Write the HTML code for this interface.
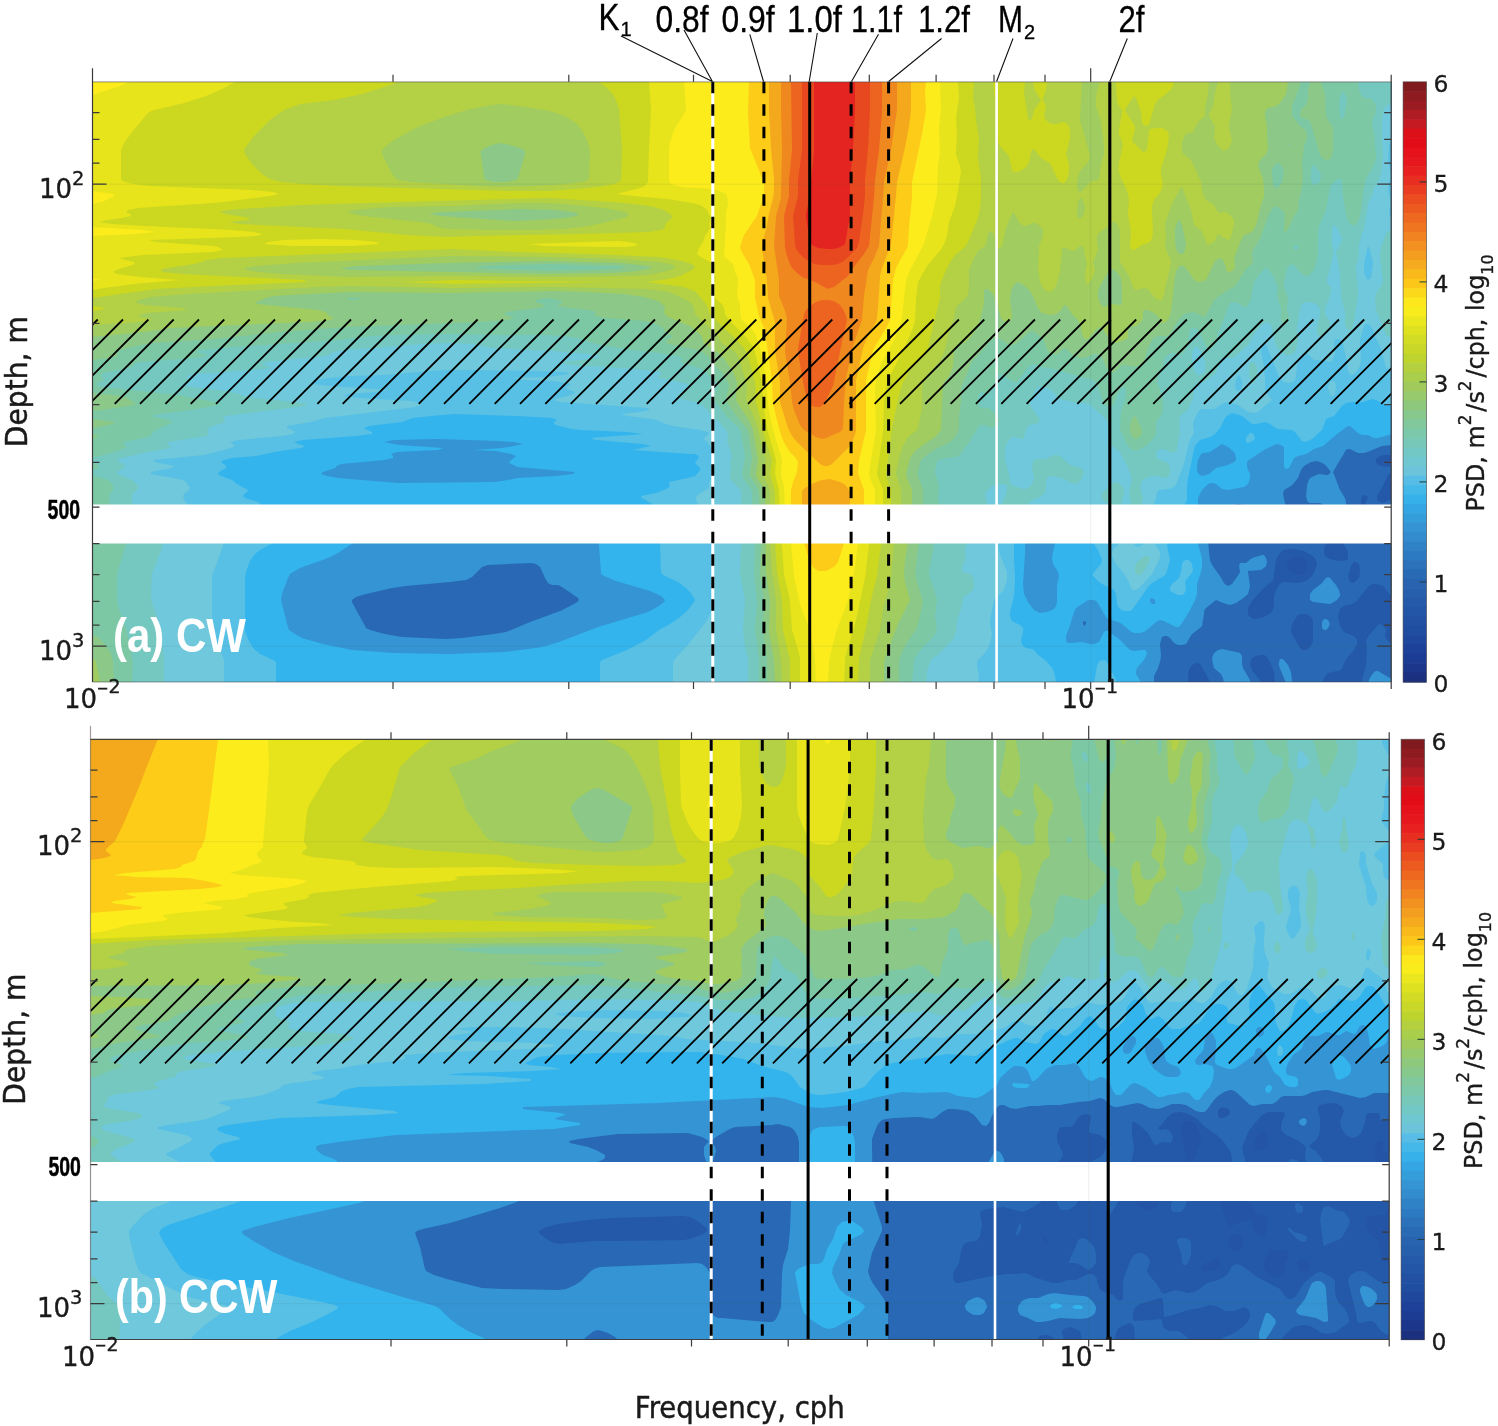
<!DOCTYPE html>
<html lang="en"><head><meta charset="utf-8"><title>Rotary spectra: CW and CCW</title>
<style>html,body{margin:0;padding:0;background:#fff}body{width:1498px;height:1426px;overflow:hidden}svg{display:block}.tk{font-family:"DejaVu Sans","Liberation Sans",sans-serif;font-size:26px;fill:#1a1a1a;stroke:#1a1a1a;stroke-width:.35px}.cb{font-family:"DejaVu Sans","Liberation Sans",sans-serif;font-size:23.5px;fill:#1a1a1a;stroke:#1a1a1a;stroke-width:.3px}.lb{font-family:"DejaVu Sans","Liberation Sans",sans-serif;font-size:30px;fill:#1a1a1a;stroke:#1a1a1a;stroke-width:.45px}.cl{font-family:"DejaVu Sans","Liberation Sans",sans-serif;font-size:24px;fill:#1a1a1a;stroke:#1a1a1a;stroke-width:.35px}.b5{font-family:"Liberation Sans",sans-serif;font-weight:bold;font-size:28.5px;fill:#000;stroke:#000;stroke-width:.5px}.pl{font-family:"Liberation Sans",sans-serif;font-weight:bold;font-size:49px;fill:#fff}.tl{font-family:"Liberation Sans",sans-serif;font-size:36px;fill:#000;stroke:#000;stroke-width:.3px}</style></head><body>
<svg width="1498" height="1426" viewBox="0 0 1498 1426">
<defs><clipPath id="clipa"><rect x="92.5" y="81.8" width="1298.7" height="600.2"/></clipPath><clipPath id="clipb"><rect x="90.5" y="738.8" width="1298.7" height="601.2"/></clipPath></defs>
<rect width="1498" height="1426" fill="#fff"/>
<g clip-path="url(#clipa)">
<rect x="92.5" y="82" width="1299" height="601" fill="#2354a6"/>
<path fill="#2458a8" d="M1392 683l-1300 0 0 -601 1300 0zM1303 574l3 -4 1 -4 -1 -3 -1 -3 -5 -3 -4 0 -4 0 -3 3 -1 2 -1 4 2 4 3 3 4 2 4 0z"/>
<path fill="#2868b4" d="M1320 683l-45 0 -1 -11 -4 -10 -4 -6 -2 -1 -4 0 -4 1 -4 2 -1 2 -1 4 2 6 8 10 2 3 -52 0 -1 -3 -7 -13 -2 -3 -2 -1 -2 0 -4 2 -3 5 -1 6 0 7 -1096 0 0 -601 740 0 560 0 0 373 -8 0 -4 1 -4 3 0 3 2 3 4 1 4 1 6 -1 0 6 -2 1 -2 2 -5 11 -6 10 0 2 0 2 3 2 2 1 10 -4 0 97 -3 -2 -4 -6 -2 -2 -7 -2 -4 0 -4 3 -12 15 -4 2 -8 2 -4 3 -1 3 -1 4 1 6 2 6 3 4 8 3 4 3 1 2 0 4 -3 6 -7 8 -5 10 -1 2 -3 1 -6 1 -4 1 -4 5 -2 5zM1363 508l3 -6 2 -4 -1 -2 -3 -1 -2 1 -1 4 0 8 1 1zM1347 560l1 -2 0 -6 -3 -6 -3 -4 -4 -3 -4 -1 -4 1 -2 1 -2 4 -2 4 0 4 1 4 5 3 8 2 4 0zM1261 618l7 -3 4 -3 2 -6 0 -10 3 -8 3 -4 2 -2 4 0 12 1 4 -1 4 -1 6 -5 3 -6 2 -6 -1 -4 -3 -4 -9 -5 -10 -2 -4 0 -6 1 -3 2 -2 2 -3 6 -2 16 -1 4 -3 3 -6 5 -11 12 -3 4 -2 4 0 6 2 3 4 2zM1355 582l4 -4 1 -8 -1 -6 -1 -1 -2 -1 -2 0 -2 2 -4 12 1 4 1 2 2 1zM1306 650l4 -3 3 -5 0 -22 -1 -2 -2 -2 -4 -2 -4 0 -4 1 -2 3 -4 6 -1 6 1 4 8 14 2 2zM1392 683l-31 0 5 -17 1 -16 -1 -10 4 -6 8 -9 2 -1 2 1 3 3 1 2 -1 6 1 2 2 3 4 3z"/>
<path fill="#3494d4" d="M1154 683l-1062 0 0 -601 740 0 560 0 0 363 -10 1 -12 5 -6 2 -6 0 -8 -4 -2 0 -2 1 -6 10 -7 12 7 18 5 8 1 4 0 4 -3 8 -3 4 -2 1 -4 0 -2 -1 -2 -2 -4 -8 -4 -4 -2 -1 -10 0 -2 -1 -1 -2 -1 -4 1 -10 1 -4 2 -4 6 -3 4 -1 6 1 2 0 3 -3 -3 -4 -4 -4 -4 -2 -4 -1 -5 1 -7 4 -3 4 -3 8 -4 5 -3 3 -7 4 -1 4 3 14 0 4 -1 2 -7 5 -10 9 -2 1 -4 -1 -8 -3 -4 -3 -1 -4 0 -4 3 -6 -1 -2 -13 -2 -4 1 -4 3 -2 4 -2 6 -12 6 -3 4 -2 4 -1 6 1 14 1 8 2 5 8 11 4 7 2 2 2 1 2 -1 2 -1 7 -10 1 -2 -1 -6 1 -3 6 0 6 -5 10 -3 2 0 2 3 1 4 -1 4 -2 2 -3 2 -13 1 0 1 2 14 -1 4 -1 4 -6 5 -6 4 -6 2 -4 -1 -10 -4 -10 8 -2 3 0 3 -2 12 -2 2 -8 6 -6 10 -4 1 -4 0 -4 -2 -4 -5 -3 -2 -3 0 -2 1 -1 3 -1 4 1 12 -1 6 -2 6 -4 8zM1236 530l-2 -1 -2 -3 0 -2 0 -2 2 -1 3 1 1 2 0 2zM1314 542l-2 1 -4 0 -8 -1 -3 -2 -2 -2 0 -2 0 -2 2 -2 3 -2 4 -1 6 2 4 2 3 3 -1 3zM1392 551l-1 -1 0 -2 1 -1zM462 638l32 -4 12 -2 24 -10 30 -11 14 -7 3 -2 2 -2 -1 -2 -16 -11 -4 -2 -6 0 -4 -2 -3 -5 -5 -11 -4 -3 -4 -1 -44 2 -6 2 -10 10 -6 3 -16 2 -44 4 -14 2 -26 6 -10 3 -4 3 0 2 1 2 12 22 1 2 4 2 15 4 17 3 44 2zM1330 604l-17 -2 -3 -2 0 -2 0 -4 3 -4 8 -6 5 -6 2 -1 2 1 6 7 3 5 1 4 0 2 -3 4 -3 2zM1328 628l-2 2 -2 0 -2 -2 0 -2 0 -4 2 -3 2 0 2 1 2 4zM1086 624l0 -2 -2 -1 -1 1 0 2 1 2zM1250 683l-26 0 -1 -5 -2 -4 -7 -6 -1 -4 -1 -6 2 -5 4 -3 4 -1 14 3 4 1 2 3 0 8 1 4 7 12zM1292 683l-6 0 -7 -17 0 -4 1 -3 2 0 2 1 4 5 3 7 1 9zM1392 683l-24 0 1 -3 2 -4 3 -4 2 -1 2 0 10 6 4 2z"/>
<path fill="#34b4ec" d="M1140 683l-1048 0 0 -601 740 0 560 0 0 352 -14 4 -4 0 -6 -3 -6 0 -4 -2 -8 -7 -2 0 -11 8 -14 12 -9 3 -8 5 -8 2 -4 2 -1 2 -4 8 -3 1 -2 -2 0 -3 0 -16 -1 -2 -3 -1 -2 -1 -4 1 -10 5 -15 10 -2 2 0 4 1 4 2 4 0 4 -2 6 -4 3 -16 3 -6 -1 -6 -5 -4 -1 -2 0 -4 3 -4 4 -2 4 -2 4 0 4 0 6 2 2 5 4 1 4 -1 4 -7 10 -1 4 0 4 3 11 2 7 0 8 -1 6 -4 12 0 10 -2 6 -6 12 -9 14 -2 1 -2 0 -12 -6 -4 -1 -4 2 -8 7 -4 3 -4 1 -6 0 -4 -2 -8 -7 -4 -2 -10 -3 -2 -2 -3 -5 -5 -9 -2 -2 -2 -1 -4 0 -2 0 -12 8 -2 4 -4 13 -4 11 0 4 0 1 2 2 4 0 10 -1 8 2 4 0 5 -2 5 -10 2 -1 2 0 12 9 8 8 2 2 4 1 8 -1 3 0 2 2 -1 4 -2 4 -7 8 -1 4 0 2 5 8 0 1zM495 482l7 -1 16 -3 38 -2 17 -2 2 -2 -57 -5 -7 -3 -2 -2 2 -2 3 -2 2 -2 -5 -2 -15 -3 -23 -1 29 -2 12 -2 9 -2 -9 -2 -16 -1 -60 -2 -44 1 -10 2 16 3 43 3 -5 2 -41 2 -6 2 2 2 0 2 -9 2 -43 4 -4 2 -2 2 -12 4 -2 2 6 2 11 2 60 5zM1209 474l7 -6 12 -3 6 -3 2 -2 0 -2 -1 -4 -1 -2 -6 -5 -4 -2 -2 -1 -3 2 -9 6 -6 1 -2 0 -2 3 -2 4 -1 6 0 4 1 3 2 2 2 1 4 -1zM503 652l33 -4 10 -2 13 -4 39 -15 50 -15 11 -6 5 -4 1 -2 -2 -2 -2 -2 -11 -5 -34 -10 -12 -5 -3 -2 0 -2 -2 -26 0 -2 -3 -3 -8 -5 -13 -6 -19 -6 -10 -1 -48 1 -53 4 -45 5 -44 9 -6 3 -12 8 -8 4 -10 4 -20 7 -7 4 -3 2 -2 4 -6 16 -1 6 1 4 5 20 2 6 6 4 7 4 21 6 29 6 42 3 56 1zM1047 612l5 -2 2 -1 2 -3 1 -4 0 -16 2 -10 -1 -4 -5 -8 -1 -6 1 -6 2 -8 -1 -2 -4 -2 -16 -1 -4 0 -4 3 -1 4 0 8 -2 30 1 10 4 8 6 8 4 2 2 1zM1155 604l0 -2 0 -2 -3 -2 -2 1 0 3 2 2z"/>
<path fill="#58c0e4" d="M1054 683l-454 0 0 -19 0 -2 2 -2 25 -10 19 -10 13 -10 11 -6 9 -6 9 -8 6 -8 1 -2 -1 -2 -4 -6 -4 -4 -8 -6 -13 -6 -3 -2 -1 -2 -1 -30 -2 -22 -1 -4 0 -2 1 -4 0 -2 -4 -3 -12 -7 -1 -2 15 -3 8 -3 4 -2 2 -2 -1 -2 0 -2 19 -4 7 -2 3 -3 2 -3 0 -2 -4 -4 -1 -2 3 -3 1 -3 -4 -2 -5 0 -57 -4 13 -3 5 -1 -8 -2 -47 -4 -6 -2 53 -4 -16 -2 -45 -2 -10 -1 -13 -3 -5 -2 0 -2 3 -2 -5 -2 -33 -2 -65 -2 -23 2 -18 2 -11 4 -33 4 -5 2 3 2 5 2 0 2 -16 2 -53 4 -9 2 4 2 7 2 -4 2 -27 4 -18 4 -24 2 -8 2 -3 2 5 4 0 2 -7 4 -1 2 3 2 11 4 5 4 11 6 -1 2 -3 2 -1 2 2 2 13 4 3 2 -3 2 -10 4 -1 2 0 2 7 6 6 8 12 12 1 2 -2 2 -11 6 -5 4 -5 7 -4 11 -1 6 0 48 0 4 1 4 4 9 4 6 6 5 13 6 3 2 0 21 -184 0 0 -601 740 0 560 0 0 323 -8 -1 -8 -4 -4 -1 -9 3 -11 0 -6 1 -4 3 -8 10 -8 3 -4 11 -10 9 -6 3 -4 -1 -7 -9 -3 -2 -14 -1 -4 -2 -4 -3 -4 -2 -10 2 -4 0 -10 -8 -6 -2 -4 -1 -4 2 -3 3 -5 10 -5 6 -5 3 -10 3 -2 2 -3 4 -2 8 -6 30 0 6 0 6 0 4 -6 12 -1 4 0 4 5 6 1 2 -1 4 -1 2 -2 1 -6 1 -4 2 -4 4 -1 4 3 14 -4 14 -2 2 -12 7 -4 4 -9 13 -5 7 -2 3 -2 1 -6 0 -2 -1 -3 -2 -2 -4 -1 -10 -2 -4 -3 -2 -7 -3 -5 -3 -4 -4 -2 -2 0 -2 1 -2 7 -8 1 -4 -2 -5 -2 -5 -4 -6 -4 -4 -4 -2 -8 0 -10 -5 -10 -3 -6 -1 -22 1 -5 2 -5 3 -4 5 -2 4 0 18 1 12 0 6 -1 16 -4 16 0 4 2 5 2 1 6 3 3 3 0 4 -2 8 1 5 4 3 6 1 2 1 3 4 9 7 6 7 2 4 1 4 1 7zM1250 442l-2 1 -2 -1 0 -2 0 -2 2 -3 2 -2 2 0 2 2 1 3 -1 2zM1182 595l-4 0 -4 -2 -2 -1 -2 -2 0 -2 1 -2 1 -2 5 -4 2 -2 2 -6 1 -8 1 -2 2 -2 3 0 2 1 2 3 1 6 -2 4 -5 6 -1 2 1 8 -2 4zM1116 683l-22 0 3 -17 1 -3 2 -2 4 -1 2 1 2 3 8 16 1 3zM1074 683l-4 0 2 -1 2 0 2 1z"/>
<path fill="#70c8dc" d="M976 683l-303 0 0 -19 1 -4 13 -14 19 -24 5 -10 3 -12 -2 -26 0 -32 -4 -11 -6 -15 -1 -8 -4 -6 -1 -4 1 -2 2 -2 7 -4 3 -2 0 -6 5 -6 1 -4 0 -4 -2 -4 1 -8 0 -2 -5 -10 -4 -4 -1 -2 5 -4 -1 -2 -8 -2 -27 -4 -7 -2 -9 -4 -5 -1 -25 -3 -6 -2 19 -2 10 -2 -3 -2 -87 -6 -6 -2 5 -2 15 -4 1 -2 -10 -4 6 -4 -17 -3 -29 -1 -13 -2 36 -1 21 -3 -3 -2 -24 -1 -78 -1 -22 0 -58 5 -36 1 -19 2 -11 2 -5 2 1 2 16 2 59 4 -14 2 -27 2 -5 2 17 2 50 3 6 1 6 2 -3 2 -11 2 -83 10 -14 4 -24 4 0 2 5 2 3 2 -2 2 -11 2 -43 4 -9 2 5 4 -4 2 -27 7 -51 5 2 2 19 4 -2 2 -21 4 0 2 27 5 5 1 3 2 4 6 -1 2 -5 4 -1 2 1 4 5 6 -1 4 1 2 2 2 12 6 7 6 8 9 5 7 0 4 -11 30 0 50 1 6 11 28 0 23 -132 0 0 -601 740 0 560 0 0 58 -2 2 -1 4 -1 16 3 12 -3 14 1 6 2 8 -2 10 0 2 1 2 2 1 0 153 -4 -1 -2 -2 -1 -3 -3 -12 -2 -6 -5 -10 -3 -8 -2 -3 -2 -1 -2 0 -2 2 -4 14 0 4 1 16 -1 6 -4 6 -2 2 -2 1 -2 -1 -2 -3 -1 -9 -4 -18 -2 -4 -3 -1 -2 0 -2 3 1 12 -3 7 -2 1 -6 -2 -10 0 -2 -2 -6 -6 -2 1 -2 2 -4 7 -1 4 -1 10 -1 4 -3 2 -4 1 -4 -1 -4 -3 -12 -30 -2 -4 -2 -2 -2 2 -1 7 3 14 1 12 0 10 1 4 6 8 -12 10 -2 2 -4 1 -6 -1 -10 -7 -10 -3 -4 1 -10 6 -12 0 -2 1 -2 2 -4 8 -1 4 1 8 -5 10 -5 22 -7 18 -2 4 -3 2 -4 1 -9 1 -2 2 -1 6 -1 4 -7 9 -2 3 -2 16 -3 4 -7 8 0 2 1 2 3 1 10 -5 4 0 2 1 4 6 2 3 0 4 -1 4 -7 14 -12 13 -4 3 -3 0 -2 -2 -3 -8 -6 -9 -6 -7 -2 -4 -2 -4 0 -4 2 -4 5 -4 1 -2 0 -2 -2 -4 -4 -4 -2 -1 -2 0 -4 3 -2 1 -2 -1 -2 -2 -6 -9 -4 -1 -10 1 -16 0 -13 -3 -11 -3 -6 1 -20 10 -10 10 -6 6 0 2 1 6 8 20 0 4 0 4 -2 6 -1 4 -4 4 -5 4 -1 2 -4 20 0 4 2 10 -1 6 -2 6 -2 4 -3 4 -6 6 -1 2 0 4 2 10 -1 7zM1371 278l1 -6 1 -10 -3 -12 -2 -5 -4 19 0 6 0 3 2 5 2 2zM1241 390l1 -4 0 -4 -2 -6 -2 -1 -2 5 -1 6 1 4 2 1zM1332 396l-2 -1 0 -1 -2 -6 1 -4 1 -2 2 -1 3 1 1 4 -1 8zM1109 522l0 -2 -3 -3 -4 0 -2 1 -1 2 1 1 6 2 2 0zM1160 532l-2 0 1 -2 1 -2 2 0 1 2z"/>
<path fill="#74c8c0" d="M926 683l-178 0 0 -23 -3 -14 -2 -16 2 -30 -5 -26 1 -32 0 -52 -8 -8 -3 -4 0 -4 1 -6 -1 -4 2 -8 -5 -16 1 -6 -2 -4 -9 -10 -7 -6 -2 -4 -6 -5 -6 -3 -18 -4 -1 -2 12 -10 -2 -2 -7 -2 -22 -4 1 -2 3 -2 -3 -2 -7 -1 -18 -2 -60 -4 -10 -1 -1 -2 34 -4 3 -2 -12 -2 -36 -3 -59 -3 -20 -4 -23 -1 -31 1 -44 4 -31 2 -11 2 -2 2 -7 2 -57 6 -5 2 10 4 -18 2 -60 4 -8 2 5 4 -3 2 -6 2 3 2 41 5 6 1 12 4 11 2 39 4 14 2 -3 2 -80 10 -2 2 2 2 0 2 -12 4 -4 2 -1 2 -1 2 2 2 -2 2 -39 6 -1 2 4 2 -2 2 -25 5 -22 5 -5 2 2 2 4 2 2 2 -1 2 -7 4 1 2 14 6 3 2 3 4 0 2 -1 2 -5 4 0 2 0 6 2 4 0 6 14 18 12 10 2 2 1 2 -1 4 -10 26 -1 22 1 6 9 28 3 30 0 23 -72 0 0 -601 742 0 558 0 0 23 -4 0 -2 1 -2 4 -2 10 0 22 1 14 -2 18 -2 6 -5 8 -2 8 -4 8 -3 20 -6 20 0 12 -3 10 0 4 2 18 0 8 -4 26 -2 7 -2 1 -2 0 -2 -2 -1 -4 0 -12 -4 -16 -1 -22 -4 -22 4 -8 2 -6 -2 -4 -4 -8 -2 -1 -2 4 0 7 0 8 2 8 -2 8 -2 8 -3 12 0 2 4 6 0 4 -1 4 -4 10 -1 4 0 4 4 6 1 4 -1 4 -2 4 -3 3 -2 1 -2 0 -2 -1 -1 -3 0 -4 3 -14 0 -4 -2 -4 -4 -3 -4 -1 -4 0 -4 2 -2 6 -3 18 1 12 -1 6 -2 6 -3 2 -2 1 -4 0 -4 -3 -4 -3 -3 -7 -3 -14 -2 -4 -2 -1 -2 -1 -4 3 -4 4 -4 5 -6 11 -6 5 -6 6 -4 2 -8 -1 -2 1 -3 4 -3 10 -2 3 -10 7 -6 0 -2 1 -2 4 -1 11 -5 11 -2 2 -6 5 -1 4 1 12 -2 10 -1 8 -2 2 -3 1 -5 -3 -5 -1 -4 1 -1 2 -1 4 1 2 3 2 6 2 3 2 1 8 -1 4 -3 2 -10 -2 -4 0 -6 2 -4 3 -1 3 -1 4 3 10 -1 4 -4 6 -4 3 -2 -1 0 -2 -3 -14 1 -6 2 -8 -2 -8 -10 -20 -4 -3 -4 -3 -3 -4 -1 -8 0 -12 -2 -3 -16 -14 -4 -2 -10 0 -6 -2 -8 -1 -3 -2 -7 -7 -4 -3 -6 -1 -4 0 -1 1 -7 12 0 4 2 4 7 10 1 2 -1 2 -3 2 -6 1 -2 2 -2 3 -2 8 -2 1 -6 -2 -4 0 -4 4 -2 4 -1 7 0 6 1 6 3 10 1 10 4 2 6 2 4 1 4 -1 4 -4 2 -4 0 -4 -2 -8 1 -6 1 -2 2 -1 10 0 8 -4 2 0 4 1 10 9 11 3 2 2 1 2 -1 4 -3 5 -2 2 -2 1 -4 -1 -8 -4 -12 -3 -2 0 -2 1 -2 3 0 10 -2 4 -4 3 -8 3 -6 6 -5 2 -17 0 -2 0 -1 -2 5 -12 1 -6 0 -2 -1 -1 -4 -1 -6 1 -4 1 -4 4 -2 2 -1 4 2 8 -1 2 -3 4 -9 5 -2 4 0 5 -1 10 -1 4 -3 6 -2 4 0 4 1 6 -4 10 0 2 0 2 8 2 3 2 1 6 0 6 -4 5 -6 4 -1 3 -3 12 -3 10 -1 10 -2 6 -14 15 -8 6 -2 3 -3 10zM1392 337l-4 -1 -2 -1 -2 -5 -8 -20 -1 -10 1 -6 5 -8 2 -4 -3 -26 1 -8 5 -14 2 -3 4 -1zM1202 374l2 -2 1 -2 0 -8 -5 -12 -2 -3 -2 0 -2 1 -2 5 0 5 1 6 1 6 2 3 2 2 2 0zM1254 383l-2 0 -2 -5 -1 -6 0 -6 1 -3 2 -1 2 0 2 4 1 2 0 8zM1118 507l-4 0 -5 -3 -6 -4 -1 -2 -1 -2 2 -4 9 -8 2 -2 2 0 4 2 4 4 0 2 0 4 -3 10 -1 2zM1130 523l-1 -1 1 -3 2 1 -1 2zM1140 575l-2 0 -2 -1 -1 -2 0 -4 1 -4 2 -3 4 -3 4 -2 2 0 2 2 -2 6 -4 7z"/>
<path fill="#7cc8a4" d="M912 683l-153 0 0 -23 -4 -30 2 -28 -3 -28 1 -34 -3 -34 0 -14 -2 -4 -7 -10 -1 -4 3 -16 -3 -18 -1 -8 -2 -4 -13 -12 -4 -6 -8 -10 0 -4 4 -10 0 -2 -1 -2 -6 -4 -5 -6 -4 -3 -6 -2 -11 -3 -4 -2 1 -4 -4 -2 -18 -3 -28 -3 -27 -4 -16 -4 -11 -4 -13 -2 -17 -1 -46 0 -54 -1 -56 1 -20 1 -34 4 -118 8 -20 2 -4 2 12 4 -13 2 -56 4 -5 2 0 2 -5 2 -21 4 -7 2 0 2 2 2 1 2 -8 4 3 2 12 2 67 7 37 7 6 2 -7 2 -24 4 -31 4 -8 2 18 4 4 2 -3 2 -10 4 -7 4 -2 4 -7 2 -20 4 -1 2 3 2 0 2 -18 6 -16 4 0 -376 742 0 524 0 1 8 3 6 2 2 6 0 2 2 2 2 2 4 0 6 -4 10 2 12 2 20 0 4 -2 7 -2 4 -6 10 -2 7 -3 26 -3 10 -2 3 -2 1 -2 -1 -1 -1 -3 -3 -2 -7 -3 -18 -1 -16 -2 -2 -2 1 -6 5 -2 4 -4 22 -7 16 -1 8 0 20 -2 10 -2 6 -4 4 -2 2 -2 0 -2 -1 -2 -1 -8 -9 -2 -1 -2 1 -2 2 -2 5 -2 10 0 6 4 10 -1 8 0 4 2 8 -1 4 -2 1 -2 1 -2 -2 -1 -2 0 -4 0 -8 -4 -12 1 -8 -2 -6 -4 -8 -4 -5 -2 -1 -2 1 -10 13 -1 4 -2 14 -3 5 -2 2 -2 0 -8 -5 -2 0 -2 0 -2 1 -6 15 -2 6 -4 8 -3 12 -3 4 -2 1 -2 -1 -2 -2 -2 -4 -4 -9 -2 -3 -2 -2 -2 0 -2 0 -2 2 -1 4 -1 10 -4 8 -2 2 -2 1 -6 -2 -2 0 -6 3 -2 3 -1 7 -5 10 -1 6 5 14 1 8 0 6 -1 4 -6 8 0 2 0 6 0 4 -4 6 -4 4 -4 3 -6 3 -4 0 -2 0 -4 -4 -6 -12 -2 -4 1 -18 1 -4 3 -8 1 -6 0 -4 -2 -3 -2 0 -2 3 -3 6 -3 8 -2 2 -4 0 -2 0 -3 -4 -5 -16 -3 -4 -2 -2 -11 -3 -28 -8 -12 -2 -8 -3 -2 0 -4 3 -10 14 -2 1 -2 0 -4 -2 -8 -6 -2 0 -4 5 -6 13 -2 2 -6 -2 -2 1 -1 1 -1 4 0 6 2 3 2 1 6 0 2 1 6 5 3 4 0 4 -1 2 -2 2 -4 2 -2 -1 -6 -2 -2 0 -2 0 -4 6 -6 10 -10 14 -4 2 -10 1 -7 2 -2 2 -1 2 -1 8 4 14 -1 12 2 14 -6 28 -1 12 -3 14 -1 8 1 4 5 14 2 8 -2 16 2 14 -3 6 -12 12 -8 11 0 3zM1344 118l3 -18 -1 -4 -2 -4 -2 0 -2 5 -1 9 1 8 0 3 2 2zM1317 184l3 -2 0 -2 1 -4 -1 -4 -4 -5 -2 -2 -2 0 -1 7 0 8 1 4 2 1zM1297 250l1 -2 0 -2 -2 -1 -2 1 0 2 0 2zM1392 258l0 -2 0 -1zM96 469l-4 1 0 -7 4 1 3 2 -1 2zM132 683l-40 0 0 -208 16 5 3 2 2 4 1 2 -1 2 -3 4 -1 2 0 6 2 4 -2 6 9 18 6 10 2 4 -9 30 0 24 1 8 9 26 4 18 2 12z"/>
<path fill="#8cc888" d="M898 683l-131 0 0 -23 -4 -30 1 -30 -4 -26 1 -32 -2 -50 -1 -4 -8 -12 0 -4 2 -14 -4 -28 -4 -5 -9 -11 -8 -12 -1 -4 3 -12 -1 -4 -6 -10 -9 -8 -5 -8 -6 -4 -4 -2 -29 -6 -3 -2 1 -2 4 -2 1 -2 -7 -4 -2 -4 -3 -2 -6 -3 -10 -2 -37 -3 -12 -2 0 -2 1 -2 -7 -2 -20 -2 -12 -2 6 -4 -4 -2 -5 -1 -8 -1 -10 2 0 2 10 4 -8 2 -31 4 -3 2 10 4 -7 2 -29 2 -132 5 -67 5 -65 7 -62 4 -17 3 -15 4 -3 2 1 4 -8 2 -18 2 0 -278 742 0 467 0 -1 4 -8 20 0 4 0 5 5 7 1 2 7 6 2 4 0 4 -3 8 -1 10 -1 6 1 14 -1 12 -3 12 -1 10 -5 8 -5 11 -2 3 -2 0 0 -6 1 -10 -1 -4 -6 -5 -2 -1 -2 1 -2 2 -4 7 -8 23 -7 11 -1 4 1 8 -1 2 -4 3 -2 2 -11 17 -10 6 -9 6 -4 6 -6 11 -1 1 -1 1 -2 -1 -4 -2 -4 -2 -6 1 -4 1 -6 6 -8 14 -4 2 -8 0 -4 2 -2 2 -4 8 -4 13 -1 3 -9 3 -8 -2 -4 0 -6 6 -4 2 -2 -1 -2 -2 -7 -14 -3 -2 -4 0 -10 4 -4 0 -6 -2 -8 -7 -2 -1 -7 6 -3 0 -4 -1 -3 -3 -3 -10 -8 -7 -4 -2 -4 2 -12 11 -4 1 -4 -1 -10 -6 -4 0 -5 4 -9 11 -6 6 -2 2 -5 13 -5 10 -1 6 0 12 -2 14 0 12 -1 4 -4 6 -4 4 -16 8 -11 8 -3 4 -2 10 0 4 5 14 0 14 -1 22 -3 16 -4 32 2 8 5 16 1 4 -4 18 -2 8 -9 13 -7 13 -2 6 0 23zM1328 160l-2 0 -2 -1 -3 -3 -2 -4 -7 -25 -2 -5 -2 -2 -6 -2 -2 -2 0 -2 1 -4 5 -6 2 -4 0 -10 2 -8 11 0 4 12 1 22 2 4 4 6 1 4 0 10 0 12 -2 6zM1289 146l1 -2 -2 -1 0 1zM1278 188l2 -3 2 -3 2 -10 -1 -4 -1 -2 -2 -2 -2 -1 -2 1 -2 2 -2 3 0 5 1 10 1 3 2 1zM593 270l23 -1 9 -1 -5 -2 -4 0 -66 -2 -65 2 -12 2 73 3zM355 300l8 -2 -16 0 3 2zM102 410l-10 1 0 -18 30 3 6 2 2 2 6 4 -7 2zM1138 438l-2 1 -2 -1 -2 -2 -2 -4 0 -7 2 -6 2 -3 2 1 6 13 0 4 -2 2zM94 428l-2 1 0 -10 9 1 13 2 -1 2zM96 438l-4 1 0 -5 6 2zM112 683l-20 0 0 -48 4 1 6 5 4 5 5 8 2 6 0 4 1 19z"/>
<path fill="#a0cc60" d="M882 683l-107 0 -1 -23 -5 -28 1 -32 -4 -28 -1 -80 -1 -4 -7 -10 -1 -4 2 -14 -5 -30 -3 -8 -13 -20 -1 -4 1 -12 0 -4 -4 -10 -9 -14 -4 -4 -15 -10 -2 -2 -1 -6 -12 -10 -22 -9 -3 -3 -1 -2 1 -4 -1 -2 -4 -4 -5 -2 -11 -3 -20 -3 -37 -2 -33 -1 -104 2 -100 -1 -60 3 -15 1 -10 2 -3 2 -6 2 1 2 61 6 8 2 3 4 4 2 -2 2 -23 2 -137 6 -28 4 -51 5 0 -255 1196 0 -1 6 -1 6 -6 9 -4 3 -8 2 -2 2 -1 2 0 4 2 10 0 8 1 14 -2 6 -6 6 -1 2 -1 4 5 12 1 12 0 6 -4 12 -3 14 -3 7 -2 3 -8 3 -2 3 -8 20 1 8 -1 3 -2 2 -2 1 -2 0 -2 -2 0 -2 -2 -6 -1 -2 -3 -2 -2 1 -2 1 -2 3 -8 17 -2 1 -6 1 -2 -1 -2 -1 -5 -8 -5 -6 -2 -1 -2 1 -4 5 -1 5 -4 36 -2 6 -3 4 -2 1 -2 0 -1 -1 -3 -6 -4 -3 -6 -3 -4 0 -1 2 0 6 -2 4 -5 4 -6 0 -2 2 0 8 0 2 -4 2 -8 3 -3 -1 -3 -3 -8 -11 -2 -1 -2 1 -2 1 -6 8 -2 2 -2 0 -2 -1 -2 -4 -2 -10 -2 -4 -6 -6 -6 -9 -2 0 -3 5 -5 4 -6 1 -8 -2 -2 -2 -2 -3 -5 -12 -3 -5 -4 -4 -6 -4 -2 -1 -2 1 -2 2 -2 3 -1 4 -1 8 2 16 -1 4 -3 2 -4 -1 -3 -3 -4 -14 -4 -10 -3 -3 -2 -2 -2 0 -2 1 0 4 0 8 -1 6 -3 12 -2 6 -6 9 -4 5 -4 3 -6 1 -2 3 -2 5 -1 14 -2 6 -2 4 -5 6 -1 2 -2 46 -5 6 -20 14 -5 6 -2 6 -3 12 1 4 5 12 0 16 -1 18 -6 36 -1 14 1 8 5 18 -4 8 -8 16 -13 34 -1 4 0 21zM506 182l10 -2 2 -2 7 -24 0 -2 -1 -2 -4 -2 -10 -3 -10 -2 -8 2 -7 3 -3 2 -2 2 1 2 3 24 2 2 8 2zM538 220l27 -2 11 -2 3 -2 -7 -2 -16 -2 -36 -1 -79 3 -12 2 12 2 73 5zM1183 254l2 -4 1 -6 -4 -19 -2 -5 -2 1 -3 7 0 4 0 10 1 6 2 5 2 1zM627 272l17 -2 8 -2 -3 -2 -27 -3 -74 -2 -100 2 -90 3 -18 2 9 2 9 0 188 4 66 -1zM1106 306l6 -2 8 1 2 -1 0 -14 -1 -12 -4 -6 -3 -2 -2 -1 -2 1 -3 4 -7 12 -2 6 0 5 2 6 2 3 2 1zM98 683l-6 0 0 -26 2 2 2 3 4 20 0 1z"/>
<path fill="#b4d044" d="M868 683l-86 0 -1 -23 -5 -30 0 -30 -4 -28 -2 -30 0 -50 -1 -4 -6 -14 3 -14 -4 -14 -4 -17 -4 -12 -7 -15 -1 -4 1 -12 -1 -4 -8 -26 -5 -6 -10 -6 -2 -2 -3 -6 -23 -22 -1 -6 -2 -4 -2 -2 -16 -8 -6 -2 -12 -2 -12 -1 -92 -2 -102 1 -100 -2 -32 1 -131 7 -37 3 -11 3 -4 2 5 2 4 1 38 3 6 2 -40 3 -6 1 -4 2 15 4 -14 2 -47 3 0 -243 990 0 -2 38 9 32 1 6 -2 4 -8 9 -2 7 -1 8 1 4 2 3 10 -11 2 -1 6 -1 1 -2 1 -4 1 -10 3 -10 0 -6 -1 -12 -3 -18 -4 -11 0 -5 0 -6 3 -14 110 0 -1 12 -3 14 0 8 -7 6 -5 10 -7 2 -2 3 -2 6 0 7 1 4 7 5 4 7 7 16 2 12 1 3 2 3 7 4 5 8 2 1 4 -1 2 0 4 3 2 2 2 3 0 4 -2 9 -2 6 -2 1 -2 -1 -8 -5 -3 6 -1 2 -4 2 -2 1 -1 -1 -1 -2 -4 -10 -2 -3 -4 -2 -2 -2 -1 -5 -2 -10 -7 -18 -2 -5 -2 2 -8 15 -4 11 -3 9 1 12 -1 10 1 4 4 8 1 4 -1 6 -4 16 -2 11 -2 5 -2 0 -2 0 -3 -2 -7 -9 -4 -1 -8 2 -2 -1 -1 -3 -5 -12 -8 -12 0 -4 0 -28 -2 -4 -2 -3 -2 -2 -2 1 -6 6 -6 4 -3 4 0 4 1 10 -5 12 2 8 -1 4 -2 5 -4 5 -2 -1 -1 -5 0 -6 2 -8 -2 -8 -1 -8 -2 -2 -2 0 -6 5 -2 0 -8 -4 -2 1 0 2 -2 22 -4 14 -3 4 -3 2 -4 -1 -2 -2 -4 -7 -2 -14 1 -18 0 -4 4 -10 0 -6 -3 -4 -4 -3 -4 0 -6 3 -4 -1 -3 -3 -5 -9 -2 0 0 1 -6 14 -4 18 -2 2 -2 0 -2 -2 -1 -4 -1 -8 -2 -2 -2 -1 -2 3 -2 10 -1 2 -7 5 -3 5 -6 14 0 18 -1 6 -2 4 -2 2 -6 5 -2 3 -2 10 -5 14 -5 21 -5 9 -11 12 -5 8 -1 8 0 18 -4 20 -1 2 -9 7 -3 5 -3 6 -3 10 -3 16 5 16 0 18 -7 36 -3 32 -2 12 -5 16 -4 26 -10 30 0 23zM1226 150l-2 1 -2 -1 -4 -4 -2 -4 -2 -4 1 -12 -3 -5 -3 -5 0 -2 4 -8 2 -14 3 -10 12 0 0 10 2 18 -3 14 0 4 3 12 -2 6 -2 3zM535 186l21 -1 27 -3 5 -2 1 -2 1 -28 -3 -10 -4 -8 -5 -7 -8 -6 -8 -4 -12 -4 -24 -4 -24 -3 -10 1 -22 4 -26 8 -26 10 -24 13 -8 6 -4 4 0 4 9 18 4 6 3 2 13 2 67 4 24 1zM1081 218l1 -1 2 -3 1 -6 -1 -5 -2 -4 -2 -1 -2 4 -1 10 1 6zM534 230l32 -1 23 -3 35 -8 4 -2 1 -2 -4 -2 -5 -1 -16 -3 -40 -4 -20 -1 -26 0 -65 3 -63 1 -36 3 -7 2 6 2 10 2 37 4 20 2 12 2 3 2 6 2 7 1 43 1zM631 276l17 -1 14 -3 9 -2 3 -2 1 -2 -5 -2 -11 -2 -39 -3 -70 -2 -98 -1 -156 7 -40 3 -12 2 2 2 12 2 24 2 66 3 106 -1 100 1z"/>
<path fill="#ccd820" d="M856 683l-66 0 0 -23 -7 -30 -1 -30 -5 -28 -2 -30 0 -50 -5 -18 2 -14 -7 -22 -5 -21 -4 -15 -1 -20 -7 -26 -2 -4 -2 -4 -11 -12 -7 -6 -16 -16 -2 -6 -2 -4 -5 -6 -5 -6 -4 -2 -8 -3 -30 -4 -8 -1 22 -3 12 -3 12 -6 3 -2 -1 -2 -2 -2 -10 -3 -10 -2 -14 -2 -42 -2 -62 -2 -38 -1 -64 -3 -230 9 -16 2 -4 2 -8 2 -27 4 -7 2 3 2 20 2 120 6 4 2 -95 4 -56 3 -36 5 -28 4 0 -216 304 0 -3 2 -9 3 -22 7 -28 6 -34 4 -8 3 -8 3 -6 4 -8 6 -16 16 -9 12 -1 2 1 4 7 10 10 10 6 4 5 2 9 2 20 2 36 2 170 5 42 0 38 -3 16 -2 10 -2 5 -2 2 -2 1 -30 -3 -42 -4 -10 -4 -6 -5 -5 -7 -5 375 0 -1 16 2 10 1 12 3 18 -1 20 3 20 0 20 -1 10 -2 10 -10 24 -4 6 -8 6 -4 5 -5 9 -6 14 -1 4 0 12 -9 36 -3 14 -1 2 -17 20 -7 12 -3 9 -8 36 -4 33 -2 12 0 4 5 14 0 16 -5 22 -5 16 -4 32 -6 24 -5 28 -7 30 -1 25zM1064 183l-2 0 -4 -3 -8 -17 -9 -5 -7 -9 -2 1 -1 2 -2 10 -3 5 -6 4 -4 1 -2 0 -2 -2 -3 -14 -9 -10 -2 -5 -3 -19 0 -20 -2 -20 32 0 -1 10 3 20 1 7 2 1 2 -1 2 -9 7 -10 -6 -10 -2 -8 14 0 -1 8 -3 8 0 2 1 2 2 4 -2 10 1 2 1 2 2 2 4 2 4 0 8 -2 2 1 2 2 2 5 0 8 -4 16 3 10 0 8 -1 4 -2 5zM1134 250l-2 0 -1 -2 -1 -2 1 -14 -3 -18 1 -14 -1 -6 -2 -6 -5 -10 -2 -6 0 -8 4 -20 -4 -10 0 -4 3 -18 0 -2 -4 -6 -1 -4 -1 -18 58 0 -2 6 -6 6 -6 4 -4 4 -2 5 -4 15 -2 4 -4 -1 -1 -1 -1 -2 -1 -10 -5 -14 -2 -2 -8 12 -1 2 2 4 8 12 0 4 -3 10 1 2 5 5 4 4 2 1 3 -2 2 -18 1 -3 8 -1 4 0 4 2 2 2 1 4 -2 14 -6 18 0 6 2 10 -1 4 -3 6 -5 6 -2 6 0 8 1 18 -1 6 -2 4 -2 1 -6 2zM474 236l106 -2 68 -2 13 -2 4 -2 0 -4 7 -6 0 -2 -2 -2 -6 -4 -10 -3 -12 -2 -28 -3 -66 -4 -148 4 -100 3 -73 5 -8 2 6 2 25 4 -2 2 -20 2 12 2 104 5 32 3 30 3 42 2zM616 282l-160 2 -54 -2 54 -2 162 2zM100 310l-8 1 0 -5 13 2z"/>
<path fill="#e8e41c" d="M104 288l-12 2 0 -208 143 0 -13 7 -16 7 -22 7 -30 7 -5 2 -2 2 -15 18 -8 11 -3 7 0 26 0 4 4 2 8 2 15 2 104 4 21 2 6 2 -9 2 -47 6 -24 2 -47 3 -14 1 -10 2 -2 2 4 2 1 2 -9 2 -15 2 -8 2 13 2 32 2 88 4 21 2 10 2 -7 2 -18 1 -89 3 7 2 57 4 5 1 5 3 -10 2 -71 3 -23 3 6 2 9 2 1 2 -19 6 -3 2 4 2 23 3 39 3 -45 4zM842 683l-42 0 0 -25 -3 -12 -5 -16 -2 -30 -6 -26 -4 -56 -1 -28 -4 -16 1 -14 -8 -28 -5 -28 -1 -22 -6 -25 -2 -9 -6 -8 -4 -5 -15 -15 -4 -6 -1 -6 -2 -4 -7 -6 -1 -2 0 -4 -1 -6 3 -8 -3 -6 1 -4 0 -2 -1 -2 -3 -2 -11 -6 -2 -2 2 -6 4 -6 2 -6 4 -6 1 -2 -1 -4 2 -6 -1 -2 -3 -6 -2 -2 -5 -3 -8 -2 -24 -4 -35 -3 -16 -2 23 -6 5 -2 3 -4 1 -34 2 -38 -2 -28 309 0 1 16 -3 20 1 16 -1 16 0 5 4 11 1 6 -4 24 -2 10 -6 16 -2 14 -3 8 -2 4 -15 18 -9 16 -2 16 -1 22 -2 8 -8 18 -18 36 -3 20 -1 30 -6 42 6 16 0 16 -5 16 -9 22 -4 34 -9 42 -11 38 0 4 -1 21zM354 246l-60 0 -30 -2 4 -2 16 -2 36 -1 36 1 20 2 3 2zM636 246l-12 1 -10 0 -69 -1 -16 -2 89 -3 10 1 9 2z"/>
<path fill="#fcec1c" d="M96 94l-4 1 0 -13 37 0 -9 4zM828 683l-12 0 -1 -23 -2 -14 -3 -16 -10 -26 -6 -28 -3 -32 -3 -16 -3 -18 -1 -22 -3 -14 1 -14 -10 -34 -4 -22 -2 -26 -6 -30 -3 -10 -3 -6 -4 -5 -8 -7 -1 -2 -1 -6 0 -8 -3 -8 1 -14 0 -4 -3 -6 -1 -6 -2 -3 -6 -5 -2 -2 0 -2 1 -12 0 -8 1 -6 0 -14 2 -10 -1 -8 -1 -2 -4 -2 -8 -3 -32 -2 -8 -2 -4 -2 -1 -3 0 -28 1 -9 4 -13 10 -16 2 -4 -2 -28 256 0 1 26 -2 20 1 24 -2 14 -1 28 -5 22 -9 30 -13 24 -4 10 -4 38 -2 6 -6 16 -13 24 -5 16 -1 10 1 40 -5 30 -2 14 1 4 5 12 0 14 -3 9 -14 31 -4 30 -6 26 -12 32 -6 24 -1 6zM102 202l-10 2 0 -13 21 3 1 2zM134 234l-42 2 0 -9 51 3 12 2zM98 280l-6 1 0 -3 8 2z"/>
<path fill="#fccc18" d="M826 571l-4 0 -4 0 -4 -3 -4 -5 -2 -7 -4 -14 -8 -18 -3 -10 -2 -10 0 -14 2 -8 4 -10 1 -10 -2 -4 -6 -6 -4 -6 -4 -8 -3 -10 -6 -24 -1 -24 -6 -42 -2 -10 -5 -12 -4 -18 0 -18 -6 -16 -5 -8 -4 -8 1 -4 3 -9 13 -19 6 -18 1 -6 0 -10 -2 -4 -12 -30 -2 -36 1 -30 177 0 -1 10 1 18 -4 24 -10 48 0 16 -3 28 -1 18 -1 4 -11 20 -3 12 -3 40 -4 8 -13 22 -7 30 0 50 -4 18 -3 12 -1 12 1 4 5 14 0 14 -6 13 -13 23 -5 16 -2 6 -3 4 -3 2z"/>
<path fill="#f4a81c" d="M828 466l-4 0 -4 -2 -22 -21 -6 -7 -4 -8 -8 -26 0 -20 -5 -32 0 -28 -7 -24 -1 -18 -5 -32 0 -4 4 -14 3 -16 4 -16 1 -6 0 -14 -3 -30 -2 -36 0 -30 142 0 0 28 -2 16 -5 26 -7 30 -1 14 -5 48 -9 24 -2 8 -1 18 -2 24 -1 4 -8 14 -5 12 -7 32 0 51 -3 9 -5 8 -16 16zM826 543l-3 -1 -3 -3 -10 -21 -7 -12 -1 -4 0 -10 1 -2 2 -2 9 -5 8 -3 8 -1 10 3 4 2 4 4 2 4 0 10 -1 4 -10 16 -9 17 -2 3z"/>
<path fill="#f08820" d="M826 438l-4 1 -6 -2 -12 -7 -4 -5 -6 -15 -2 -8 -2 -20 -5 -30 2 -34 -3 -10 -5 -12 0 -16 -5 -34 2 -30 5 -18 0 -6 1 -42 -1 -40 0 -28 116 0 0 28 -6 40 -7 32 -1 16 -4 48 -4 10 -7 14 -4 26 -2 24 -5 14 -4 12 -7 32 -2 24 -1 26 -1 2 -2 2z"/>
<path fill="#ec6420" d="M830 288l-2 1 -4 -2 -9 -5 -13 -5 -6 -5 -4 -4 -2 -4 -3 -8 -2 -8 -1 -32 5 -20 0 -16 3 -30 -1 -68 91 0 0 30 -3 38 -4 30 -1 18 -5 48 -5 8 -11 14 -5 8 -14 11zM820 407l-4 0 -4 -1 -2 -2 -3 -4 -4 -18 -5 -30 0 -4 5 -28 1 -6 2 -4 4 -4 6 -4 6 -2 6 0 6 1 6 4 4 6 2 5 1 4 -5 22 -9 44 -7 14 -2 4z"/>
<path fill="#e84820" d="M838 264l-6 1 -12 0 -6 -1 -4 -2 -6 -4 -4 -4 -4 -5 -1 -5 -2 -28 5 -20 0 -16 4 -30 0 -68 68 0 0 28 -2 38 -3 32 0 16 -2 18 -4 28 -2 6 -5 5 -8 8z"/>
<path fill="#e42420" d="M838 248l-4 1 -6 0 -10 -1 -6 -3 -1 -1 -1 -3 -4 -23 0 -4 4 -18 1 -14 3 -30 0 -70 41 0 0 28 -2 38 -3 34 0 34 -5 28 -3 2z"/>
</g>
<rect x="92.5" y="504.5" width="1299.2" height="39" fill="#fff"/>
<line x1="92.5" y1="184.2" x2="1391.2" y2="184.2" stroke="#406060" stroke-opacity=".1" stroke-width="1"/>
<line x1="92.5" y1="646.2" x2="1391.2" y2="646.2" stroke="#406060" stroke-opacity=".1" stroke-width="1"/>
<line x1="1090.7" y1="81.8" x2="1090.7" y2="682" stroke="#406060" stroke-opacity=".1" stroke-width="1"/>
<g clip-path="url(#clipa)"><path d="M-3.6 319.5L-87.9 403.8M21.7 319.5L-62.6 403.8M47.0 319.5L-37.3 403.8M72.4 319.5L-11.9 403.8M97.7 319.5L13.4 403.8M123.0 319.5L38.7 403.8M148.4 319.5L64.1 403.8M173.7 319.5L89.4 403.8M199.0 319.5L114.7 403.8M224.3 319.5L140.0 403.8M249.7 319.5L165.4 403.8M275.0 319.5L190.7 403.8M300.3 319.5L216.0 403.8M325.7 319.5L241.4 403.8M351.0 319.5L266.7 403.8M376.3 319.5L292.0 403.8M401.7 319.5L317.4 403.8M427.0 319.5L342.7 403.8M452.3 319.5L368.0 403.8M477.6 319.5L393.3 403.8M503.0 319.5L418.7 403.8M528.3 319.5L444.0 403.8M553.6 319.5L469.3 403.8M579.0 319.5L494.7 403.8M604.3 319.5L520.0 403.8M629.6 319.5L545.3 403.8M655.0 319.5L570.7 403.8M680.3 319.5L596.0 403.8M705.6 319.5L621.3 403.8M731.0 319.5L646.7 403.8M756.3 319.5L672.0 403.8M781.6 319.5L697.3 403.8M806.9 319.5L722.6 403.8M832.3 319.5L748.0 403.8M857.6 319.5L773.3 403.8M882.9 319.5L798.6 403.8M908.3 319.5L824.0 403.8M933.6 319.5L849.3 403.8M958.9 319.5L874.6 403.8M984.3 319.5L900.0 403.8M1009.6 319.5L925.3 403.8M1034.9 319.5L950.6 403.8M1060.2 319.5L975.9 403.8M1085.6 319.5L1001.3 403.8M1110.9 319.5L1026.6 403.8M1136.2 319.5L1051.9 403.8M1161.6 319.5L1077.3 403.8M1186.9 319.5L1102.6 403.8M1212.2 319.5L1127.9 403.8M1237.5 319.5L1153.2 403.8M1262.9 319.5L1178.6 403.8M1288.2 319.5L1203.9 403.8M1313.5 319.5L1229.2 403.8M1338.9 319.5L1254.6 403.8M1364.2 319.5L1279.9 403.8M1389.5 319.5L1305.2 403.8M1414.9 319.5L1330.6 403.8M1440.2 319.5L1355.9 403.8M1465.5 319.5L1381.2 403.8" stroke="#000" stroke-width="1.8" fill="none"/></g>
<line x1="712.8" y1="81.8" x2="712.8" y2="682" stroke="#fff" stroke-width="3"/>
<line x1="712.8" y1="81.8" x2="712.8" y2="682" stroke="#000" stroke-width="3" stroke-dasharray="11.5 11"/>
<line x1="763.9" y1="81.8" x2="763.9" y2="682" stroke="#000" stroke-width="3" stroke-dasharray="11.5 11"/>
<line x1="851.1" y1="81.8" x2="851.1" y2="682" stroke="#000" stroke-width="3" stroke-dasharray="11.5 11"/>
<line x1="888.6" y1="81.8" x2="888.6" y2="682" stroke="#000" stroke-width="3" stroke-dasharray="11.5 11"/>
<line x1="809.7" y1="81.8" x2="809.7" y2="682" stroke="#000" stroke-width="3"/>
<line x1="996.6" y1="81.8" x2="996.6" y2="682" stroke="#fff" stroke-width="2.6"/>
<line x1="1109.8" y1="81.8" x2="1109.8" y2="682" stroke="#000" stroke-width="3.1"/>
<line x1="92.5" y1="68.3" x2="92.5" y2="682" stroke="#3a3a3a" stroke-opacity="1" stroke-width="1.2"/>
<path d="M1391.2 74.8V689M393.0 81.8v-7M393.0 682v7M568.8 81.8v-7M568.8 682v7M693.5 81.8v-7M693.5 682v7M790.2 81.8v-7M790.2 682v7M869.3 81.8v-7M869.3 682v7M936.1 81.8v-7M936.1 682v7M994.0 81.8v-7M994.0 682v7M1045.0 81.8v-7M1045.0 682v7M1090.7 81.8v-13.5M1090.7 682v7M92.5 112.6h7M1391.2 112.6h-7M92.5 139.4h7M1391.2 139.4h-7M92.5 163.1h7M1391.2 163.1h-7M92.5 184.2h14M1391.2 184.2h-14M92.5 323.3h7M1391.2 323.3h-7M92.5 404.6h7M1391.2 404.6h-7M92.5 462.4h7M1391.2 462.4h-7M92.5 507.1h7M1391.2 507.1h-7M92.5 543.7h7M1391.2 543.7h-7M92.5 574.6h7M1391.2 574.6h-7M92.5 601.4h7M1391.2 601.4h-7M92.5 625.1h7M1391.2 625.1h-7M92.5 646.2h14M1391.2 646.2h-14" stroke="#3a3a3a" stroke-width="1.2" fill="none"/>
<line x1="92.5" y1="81.8" x2="1391.2" y2="81.8" stroke="#3a3a3a" stroke-opacity=".45" stroke-width="1.2"/>
<line x1="92.5" y1="682" x2="1391.2" y2="682" stroke="#3a3a3a" stroke-opacity=".5" stroke-width="1.2"/>
<text x="39" y="197.8" class="tk">10<tspan dy="-13" font-size="19.5">2</tspan></text>
<text x="39" y="659.8" class="tk">10<tspan dy="-13" font-size="19.5">3</tspan></text>
<text x="47.6" y="518.8" class="b5" textLength="32.5" lengthAdjust="spacingAndGlyphs">500</text>
<text x="64" y="708.2" class="tk">10<tspan dy="-15.5" font-size="13.5" stroke-width=".8">−</tspan><tspan dy="0.5" font-size="19">2</tspan></text>
<text x="1061.5" y="708" class="tk">10<tspan dy="-15.5" font-size="13.5" stroke-width=".8">−</tspan><tspan dy="0.5" font-size="19">1</tspan></text>
<text transform="translate(27.2 381.7) rotate(-90)" class="lb" text-anchor="middle" textLength="131" lengthAdjust="spacingAndGlyphs">Depth, m</text>
<text x="113" y="652.2" class="pl" textLength="133" lengthAdjust="spacingAndGlyphs">(a) CW</text>
<rect x="1403.1" y="81.80" width="23.4" height="9.98" fill="#801a1f"/>
<rect x="1403.1" y="91.18" width="23.4" height="9.98" fill="#8d1b20"/>
<rect x="1403.1" y="100.56" width="23.4" height="9.98" fill="#9a1c22"/>
<rect x="1403.1" y="109.93" width="23.4" height="9.98" fill="#af1c23"/>
<rect x="1403.1" y="119.31" width="23.4" height="9.98" fill="#c51a22"/>
<rect x="1403.1" y="128.69" width="23.4" height="9.98" fill="#db1018"/>
<rect x="1403.1" y="138.07" width="23.4" height="9.98" fill="#e10c18"/>
<rect x="1403.1" y="147.45" width="23.4" height="9.98" fill="#e5111b"/>
<rect x="1403.1" y="156.82" width="23.4" height="9.98" fill="#e7181d"/>
<rect x="1403.1" y="166.20" width="23.4" height="9.98" fill="#e82120"/>
<rect x="1403.1" y="175.58" width="23.4" height="9.98" fill="#e82e20"/>
<rect x="1403.1" y="184.96" width="23.4" height="9.98" fill="#e93c20"/>
<rect x="1403.1" y="194.34" width="23.4" height="9.98" fill="#eb4c20"/>
<rect x="1403.1" y="203.72" width="23.4" height="9.98" fill="#ec5a20"/>
<rect x="1403.1" y="213.09" width="23.4" height="9.98" fill="#ee6820"/>
<rect x="1403.1" y="222.47" width="23.4" height="9.98" fill="#ef7520"/>
<rect x="1403.1" y="231.85" width="23.4" height="9.98" fill="#f18320"/>
<rect x="1403.1" y="241.23" width="23.4" height="9.98" fill="#f29020"/>
<rect x="1403.1" y="250.61" width="23.4" height="9.98" fill="#f49e20"/>
<rect x="1403.1" y="259.98" width="23.4" height="9.98" fill="#f6ab1e"/>
<rect x="1403.1" y="269.36" width="23.4" height="9.98" fill="#fab91a"/>
<rect x="1403.1" y="278.74" width="23.4" height="9.98" fill="#fcc718"/>
<rect x="1403.1" y="288.12" width="23.4" height="9.98" fill="#fcd81a"/>
<rect x="1403.1" y="297.50" width="23.4" height="9.98" fill="#fce81c"/>
<rect x="1403.1" y="306.88" width="23.4" height="9.98" fill="#f8ec1c"/>
<rect x="1403.1" y="316.25" width="23.4" height="9.98" fill="#ebe71e"/>
<rect x="1403.1" y="325.63" width="23.4" height="9.98" fill="#dee120"/>
<rect x="1403.1" y="335.01" width="23.4" height="9.98" fill="#d3dc24"/>
<rect x="1403.1" y="344.39" width="23.4" height="9.98" fill="#c9d828"/>
<rect x="1403.1" y="353.77" width="23.4" height="9.98" fill="#bed42e"/>
<rect x="1403.1" y="363.14" width="23.4" height="9.98" fill="#b4d03e"/>
<rect x="1403.1" y="372.52" width="23.4" height="9.98" fill="#a9ce4c"/>
<rect x="1403.1" y="381.90" width="23.4" height="9.98" fill="#a0cb5c"/>
<rect x="1403.1" y="391.28" width="23.4" height="9.98" fill="#96ca6d"/>
<rect x="1403.1" y="400.66" width="23.4" height="9.98" fill="#8ec87d"/>
<rect x="1403.1" y="410.03" width="23.4" height="9.98" fill="#87c88c"/>
<rect x="1403.1" y="419.41" width="23.4" height="9.98" fill="#81c89c"/>
<rect x="1403.1" y="428.79" width="23.4" height="9.98" fill="#7bc8aa"/>
<rect x="1403.1" y="438.17" width="23.4" height="9.98" fill="#77c8b8"/>
<rect x="1403.1" y="447.55" width="23.4" height="9.98" fill="#72c8c5"/>
<rect x="1403.1" y="456.93" width="23.4" height="9.98" fill="#6fc7d1"/>
<rect x="1403.1" y="466.30" width="23.4" height="9.98" fill="#6cc4db"/>
<rect x="1403.1" y="475.68" width="23.4" height="9.98" fill="#58bde6"/>
<rect x="1403.1" y="485.06" width="23.4" height="9.98" fill="#45b8ea"/>
<rect x="1403.1" y="494.44" width="23.4" height="9.98" fill="#37b1ea"/>
<rect x="1403.1" y="503.82" width="23.4" height="9.98" fill="#34a6e3"/>
<rect x="1403.1" y="513.19" width="23.4" height="9.98" fill="#349edb"/>
<rect x="1403.1" y="522.57" width="23.4" height="9.98" fill="#3494d4"/>
<rect x="1403.1" y="531.95" width="23.4" height="9.98" fill="#328ccd"/>
<rect x="1403.1" y="541.33" width="23.4" height="9.98" fill="#3082c7"/>
<rect x="1403.1" y="550.71" width="23.4" height="9.98" fill="#2c7ac1"/>
<rect x="1403.1" y="560.08" width="23.4" height="9.98" fill="#2b72bb"/>
<rect x="1403.1" y="569.46" width="23.4" height="9.98" fill="#296ab5"/>
<rect x="1403.1" y="578.84" width="23.4" height="9.98" fill="#2863b0"/>
<rect x="1403.1" y="588.22" width="23.4" height="9.98" fill="#265fac"/>
<rect x="1403.1" y="597.60" width="23.4" height="9.98" fill="#255aaa"/>
<rect x="1403.1" y="606.98" width="23.4" height="9.98" fill="#2356a6"/>
<rect x="1403.1" y="616.35" width="23.4" height="9.98" fill="#2251a4"/>
<rect x="1403.1" y="625.73" width="23.4" height="9.98" fill="#204da0"/>
<rect x="1403.1" y="635.11" width="23.4" height="9.98" fill="#1f479c"/>
<rect x="1403.1" y="644.49" width="23.4" height="9.98" fill="#1d4198"/>
<rect x="1403.1" y="653.87" width="23.4" height="9.98" fill="#1c3b93"/>
<rect x="1403.1" y="663.24" width="23.4" height="9.98" fill="#1c368b"/>
<rect x="1403.1" y="672.62" width="23.4" height="9.98" fill="#1c3080"/>
<rect x="1403.1" y="81.8" width="23.4" height="600.2" fill="none" stroke="#3a3a3a" stroke-opacity=".55" stroke-width="1"/>
<path d="M1426.5 582.0h-7M1426.5 481.9h-7M1426.5 381.9h-7M1426.5 281.9h-7M1426.5 181.8h-7" stroke="#1a3a30" stroke-opacity=".8" stroke-width="1.2" fill="none"/>
<text x="1433.5" y="692.3" class="cb">0</text>
<text x="1433.5" y="592.3" class="cb">1</text>
<text x="1433.5" y="492.2" class="cb">2</text>
<text x="1433.5" y="392.2" class="cb">3</text>
<text x="1433.5" y="292.2" class="cb">4</text>
<text x="1433.5" y="192.1" class="cb">5</text>
<text x="1433.5" y="92.1" class="cb">6</text>
<text transform="translate(1483.5 383) rotate(-90)" class="cl" text-anchor="middle" textLength="257" lengthAdjust="spacingAndGlyphs">PSD, m<tspan dy="-12.5" font-size="17">2</tspan><tspan dy="12.5" dx="3">/s</tspan><tspan dy="-12.5" font-size="17">2</tspan><tspan dy="12.5" dx="3">/cph, log</tspan><tspan dy="9.5" font-size="16">10</tspan></text>
<g clip-path="url(#clipb)">
<rect x="90.5" y="739" width="1299" height="601" fill="#2354a6"/>
<path fill="#2458a8" d="M1390 1340l-1300 0 0 -601 1300 0 0 415 -4 -1 -2 -2 -1 -2 0 -6 -3 -2 -2 0 -2 2 -1 2 -1 4 1 10 1 4 6 7 4 2 4 2 0 6 -6 1 -4 2 -2 2 -1 4 1 4 3 2 5 3 4 1 0 12 -8 4 -14 2 -2 2 0 4 0 4 2 4 8 8 2 2 3 12 0 6 1 2 8 2zM1192 1161l4 -6 1 -6 3 -7 1 -5 -2 -6 -3 -6 -4 -3 -2 -1 -4 0 -3 2 -1 2 -1 4 0 6 4 14 1 11 2 3 2 -1zM1263 1149l4 -4 2 -4 -2 -6 -1 -2 -2 -2 -2 0 -4 4 -3 6 -1 4 0 3 2 3 2 0zM1168 1177l2 -2 0 -2 -1 -2 -3 0 -2 2 -1 2 0 2 1 1zM1349 1195l4 -4 4 -8 1 -4 0 -4 -2 -4 -2 -1 -12 -1 -2 1 -4 7 -1 6 0 4 3 6 4 3 4 1zM1284 1181l-6 -5 -2 0 -1 1 -1 2 2 1 6 2zM1265 1235l3 -12 0 -4 -2 -2 -4 -2 -6 -1 -1 -1 -3 -8 -8 -6 -10 -15 -2 -2 -4 -1 -4 1 -4 5 -2 6 5 18 5 14 2 1 2 0 6 -3 12 -4 2 1 2 9 2 4 6 3 2 0zM1154 1209l4 -4 1 -4 0 -4 -3 -3 -4 -2 -6 -1 -6 0 -4 2 -2 2 0 4 1 4 2 2 3 2 6 3 4 0zM1239 1251l2 -2 2 -4 0 -6 -3 -3 -4 -2 -4 1 -2 1 -1 5 -1 4 1 2 1 2 4 2 2 0zM1048 1241l-2 -4 -2 0 -1 2 1 3 2 1zM1281 1275l3 -4 2 -10 3 -4 0 -2 0 -2 -3 -3 -2 -1 -2 0 -4 2 -2 0 -6 -2 -2 2 -3 10 -1 4 1 4 2 4 5 3 4 1zM1209 1271l7 -1 2 -1 3 -4 0 -4 -1 -2 -2 -1 -2 0 -13 7 -1 4 0 2 2 0zM1307 1271l2 -2 1 -4 -2 -4 -4 -2 -4 0 -2 1 0 1 -1 2 2 6 3 3z"/>
<path fill="#2868b4" d="M1280 1340l-59 0 1 -1 2 -2 8 -3 8 -5 4 -3 4 -5 2 -4 0 -4 -2 -4 -4 -2 -10 4 -4 0 -4 0 -10 -5 -6 -1 -10 3 -12 2 -18 6 -6 1 0 -2 -1 -14 -1 -3 -2 0 -20 6 -4 3 -2 2 -1 4 0 4 1 4 16 -1 11 -1 1 2 1 6 2 2 5 2 8 0 4 2 5 4 2 3 -54 0 -1 -13 -2 -3 -2 -1 -8 3 -4 3 -2 4 -1 7 -33 0 -1 -5 -1 -4 -4 -2 -6 -2 -6 2 -2 2 0 2 2 7 -8 0 -1 -1 -3 -2 -4 -2 -4 0 -2 0 -3 2 -2 3 -947 0 0 -601 1300 0 0 382 -10 -1 0 -5 -2 -2 -10 0 -2 2 -1 8 -4 10 -4 4 -5 1 -4 -2 -2 -1 -3 -4 -2 -4 -1 -6 4 -10 -2 -4 -6 -4 -4 0 -8 1 -4 1 -2 2 0 4 2 6 0 4 0 8 -1 6 -2 4 -7 6 -1 2 7 4 8 11 3 5 0 4 -1 4 -2 3 -4 3 -2 0 -2 -2 -4 -9 -6 -9 -1 -4 1 -10 -7 -6 -13 -6 -4 -4 -1 -2 0 -4 4 -12 -3 -1 -14 0 -4 2 -2 1 -12 14 -2 4 -5 12 -1 4 3 10 0 4 -1 2 -4 1 -4 0 -3 -3 -1 -2 -1 -8 -1 -2 -7 -10 -4 -4 -5 -4 -8 -5 -10 -10 -10 -5 -6 -1 -7 1 -5 4 -6 7 -3 3 -1 2 2 1 6 -1 4 2 2 3 1 3 -1 4 -2 2 -8 -1 -6 3 -2 -1 -6 -11 -10 -9 -4 -2 -2 0 0 3 0 8 2 16 -1 6 -3 10 -1 12 -7 18 -10 17 -2 2 -2 -1 -2 -4 -1 -16 -3 -4 -2 -1 -4 0 -12 7 -4 3 -4 7 -6 4 -4 1 -4 0 -2 -1 -2 -4 -1 -4 1 -4 5 -4 9 -4 4 -6 4 -11 2 -4 4 -4 14 -7 4 -4 2 -6 0 -6 -2 -3 -4 -3 -10 -2 -1 -2 0 -4 2 -10 -1 -2 -4 -1 -4 1 -4 3 -4 7 -4 2 -8 0 -2 1 -2 3 -1 4 0 4 1 4 4 8 1 4 -2 4 -5 5 -4 3 -8 3 -3 3 -2 4 -1 4 0 2 6 12 0 2 -2 3 -2 3 -12 7 -6 2 -18 -5 -16 2 -7 2 -1 2 2 12 -2 11 -2 3 -2 2 -8 1 -4 2 -3 7 -2 12 -6 10 0 4 1 4 2 2 2 0 10 -2 18 -4 20 -3 10 0 8 -1 2 0 8 4 18 6 6 0 10 -3 8 0 4 -2 8 -4 4 0 2 1 2 2 4 12 2 2 11 4 5 5 2 1 2 -1 1 -1 0 -16 1 -6 7 -18 3 -4 4 -2 4 0 2 1 4 3 1 2 1 4 -3 8 1 2 1 2 7 8 6 10 2 1 8 -3 4 -1 12 3 6 -1 4 -2 9 -7 11 -3 4 -2 5 -3 5 -9 4 -2 4 1 4 2 13 10 23 12 6 8 2 2 2 0 4 -1 2 -2 8 -13 12 -10 4 -1 2 0 9 5 2 2 2 2 0 12 2 6 2 4 6 6 3 6 1 6 -1 2 -12 9 -4 1 -4 1 -6 -1 -8 -5 -4 -2 -6 -1 -6 1 -4 1 -4 3zM1226 1117l3 -2 1 -2 0 -2 -1 -2 -3 -1 -4 -1 -2 1 -2 3 0 2 0 3 2 2 2 0zM1294 1170l-4 0 -2 -3 0 -4 1 -2 1 -1 2 -1 4 1 2 1 1 2 -1 4zM1180 1212l-6 0 -2 -1 -1 -2 0 -4 5 -16 2 -2 4 -2 8 2 2 0 0 2 -4 8 -3 10 -3 4zM1300 1213l-2 0 -2 -2 -1 -4 0 -2 1 -2 2 0 2 1 3 3 0 4 -1 1zM1326 1245l-2 1 -1 -3 -3 -24 1 -4 1 -5 2 -3 4 -1 8 4 8 2 4 5 2 4 -2 6 -6 10 -2 2zM569 1243l25 -2 22 0 68 -1 6 -1 8 -3 7 -3 2 -2 0 -2 -3 -3 -8 -6 -6 -3 -8 -1 -70 2 -24 2 -30 4 -14 4 -5 3 0 2 2 2 7 5 6 3 6 1zM1018 1235l-2 0 0 -2 2 -7 2 -3 1 2 0 4 -1 3zM1304 1242l-4 -1 -3 -2 -5 -5 -3 -3 -1 -2 0 -1 2 0 4 4 11 3 2 2 0 2 -1 2zM1090 1269l-2 1 -2 -1 -6 -4 -4 -2 -7 0 0 -2 8 -18 1 -3 4 -2 4 1 4 3 4 5 2 6 0 6 0 4 -3 4zM1188 1263l-2 2 -2 0 -2 -2 0 -2 -1 -8 -4 -10 0 -2 1 -2 2 -1 6 0 3 1 2 4 0 4 0 8zM1390 1335l-4 -1 -4 -2 -8 -10 -4 -1 -10 2 -2 -1 -1 -1 -1 -8 -8 -32 1 -4 3 -3 6 -3 4 0 4 1 10 8 4 2 4 0 6 -1z"/>
<path fill="#3494d4" d="M888 1340l-270 0 -3 -3 -7 -4 -6 -2 -4 -1 -4 1 -4 3 -4 3 -2 3 -494 0 0 -601 1300 0 0 354 -16 0 -8 4 -6 1 -20 -5 -12 -3 -4 0 -12 2 -6 3 -4 1 -18 0 -3 1 -5 5 -4 2 -10 0 -8 2 -4 -1 -14 -13 -4 -2 -2 0 -6 2 -6 4 -4 4 -8 11 -2 1 -4 0 -4 -1 -10 -6 -6 -1 -8 0 -10 4 -4 1 -8 -1 -8 -4 -4 -1 -6 1 -14 3 -4 0 -4 -2 -6 -6 -4 -1 -10 3 -12 1 -18 3 -12 0 -10 1 -8 0 -14 3 -6 -1 -6 -3 -4 0 -4 3 -2 3 -5 12 -3 3 -4 -1 -8 -10 -6 -4 -6 -1 -8 -1 -6 0 -4 2 -3 2 -5 4 -4 2 -12 -2 -4 0 -22 1 -8 1 -4 1 -4 4 -3 7 -3 8 0 8 1 52 9 28 0 4 -10 22 -4 18 1 4 3 7 12 17 3 6 1 6zM1304 1126l-3 -1 -2 -2 0 -2 2 -2 3 -1 2 1 1 2 -1 3zM774 1321l2 -2 2 -4 3 -8 1 -34 1 -8 5 -16 2 -18 1 -30 5 -21 3 -17 0 -20 -1 -6 -2 -4 -3 -4 -3 -2 -4 -1 -8 -2 -6 1 -36 2 -4 1 -4 2 -12 7 -5 4 4 6 1 4 -2 7 -2 4 -2 2 -2 -1 -2 -2 -2 -6 0 -6 0 -2 5 -6 -7 -4 -14 -4 -70 1 -24 3 -15 2 -10 2 1 2 18 4 8 3 9 5 0 2 -1 2 -4 2 -15 6 -5 5 -4 3 -8 3 -18 6 -10 4 -9 5 -12 8 -5 2 -14 5 -50 15 -27 6 -6 2 -2 2 5 14 5 22 1 2 8 4 13 4 23 6 12 3 20 1 56 1 8 -1 9 -4 6 -4 10 -10 3 -2 6 -2 98 -4 4 1 4 3 2 3 2 3 -1 32 1 5 4 6 4 2 4 0 46 4 4 0zM998 1176l-4 1 -4 -3 -2 -3 0 -4 1 -6 3 -5 4 -5 2 0 2 1 2 3 2 4 0 4 -2 8 -2 3zM1326 1322l-2 0 -8 -4 -16 -3 -3 -2 -1 -2 1 -2 8 -10 5 -12 2 -4 4 -2 4 0 2 1 3 3 1 4 2 28 0 4zM1372 1306l-2 1 -2 0 -2 -1 -2 -3 -3 -8 -1 -4 0 -2 2 -3 2 0 4 1 4 2 4 4 1 2 0 4 -2 4zM1048 1321l-6 1 -6 0 -8 -4 -8 -3 -2 -4 0 -4 1 -2 3 -4 4 -2 4 -1 8 0 10 -4 6 -1 16 2 14 1 4 1 2 2 4 4 2 4 0 2 -1 4 -3 3 -4 2 -8 1 -20 -1zM978 1315l-4 0 -4 -2 -4 -3 -1 -3 0 -2 3 -4 6 -3 4 -1 4 2 2 1 2 3 1 4 -1 2 -2 4 -4 2zM1264 1340l-4 0 -1 -3 0 -4 6 -18 1 -2 2 0 2 1 5 5 1 4 -2 3 -4 7 -5 7zM1154 1340l-5 0 1 -1 2 0 2 0 2 1z"/>
<path fill="#34b4ec" d="M486 1340l-396 0 0 -601 1300 0 0 291 -2 3 -1 8 -1 2 -2 2 -4 2 -6 2 -2 -1 -2 -3 -2 -12 -2 -6 -2 -2 -2 0 -2 1 -4 7 -2 1 -8 -3 -6 4 -4 0 -8 -3 -2 0 -8 4 -8 0 -4 1 -1 2 -3 9 -2 2 -6 4 -2 3 -4 6 -2 6 0 4 2 2 8 2 2 2 0 4 0 2 -2 2 -6 0 -5 -2 -5 -8 -6 -5 -8 -16 -4 -6 -2 -2 -2 0 -2 1 -2 6 -4 3 -14 10 -4 1 -4 0 -11 -4 -2 -2 0 -2 1 -16 0 -4 -2 -5 -2 -3 -2 -1 -2 2 -3 5 -1 8 -1 4 -3 3 -3 3 -1 2 -1 2 1 3 2 1 8 -1 6 2 1 1 1 4 -1 8 -3 8 -6 6 -4 6 -2 1 -2 0 -2 -1 -5 -6 -5 -1 -8 2 -8 1 -6 2 -4 0 -12 -9 -8 -4 -4 -1 -4 2 -7 8 -2 2 -5 0 -3 -4 -3 -8 -4 -4 -4 -2 -2 0 -8 4 -4 -1 -3 -3 -7 -12 -4 -2 -8 2 -10 0 -6 2 -4 2 -8 9 -4 3 -2 0 -1 -2 -3 -8 -2 -2 -2 -2 -4 -1 -6 0 -4 3 -7 6 -3 3 -3 7 -2 2 -13 9 -6 2 -18 -2 -8 -3 -4 -1 -26 1 -18 -1 -24 5 -30 8 -26 3 -14 -1 -8 -3 -14 -5 -12 -2 -116 6 -135 4 0 2 38 4 5 2 -7 2 -5 2 26 4 0 2 -26 4 -104 4 -54 2 -58 7 -19 3 -3 2 0 2 4 4 3 2 11 4 3 2 1 2 0 4 1 2 14 6 10 16 4 8 -2 2 -6 2 -74 16 -31 8 -12 4 0 2 2 2 13 8 18 10 19 8 50 18 62 19 26 7 5 2 3 2 10 10 8 6 10 6 18 8 2 1zM1263 1035l1 -2 0 -2 -1 -2 -2 -2 -3 0 -2 3 0 3 1 2 1 2 2 0zM1130 1053l2 -3 4 -7 0 -4 -2 -3 -2 0 -4 3 -3 4 -2 4 0 4 1 2 2 1zM1177 1077l3 -2 1 -2 -1 -3 -2 -3 -8 -3 -4 -3 -1 -4 -1 -10 -4 -7 -2 -2 -2 0 -4 1 -4 2 -3 4 0 6 3 9 6 9 10 7 4 1zM1342 1079l-4 1 -2 -2 -4 -13 1 -4 1 -2 4 -4 2 0 2 1 2 1 5 6 2 4 0 4 -2 4 -3 2zM1026 1088l-4 0 -4 0 -4 -1 -2 -2 1 -2 1 0 14 1 2 1 -2 2zM1270 1092l-2 1 -2 -1 -1 -3 1 -2 2 -2 2 0 2 2 0 2zM842 1179l-8 0 -14 -3 -4 -2 -4 -3 -2 -4 -1 -6 0 -18 1 -8 2 -4 2 -2 6 -2 22 -1 4 0 2 1 3 4 3 6 1 6 0 20 -2 6 -3 5 -4 4zM834 1328l-6 1 -6 -2 -12 -8 -6 -6 -3 -8 -6 -32 1 -2 2 -2 4 -2 8 -3 8 0 4 -2 2 -3 3 -10 6 -10 4 -12 2 -2 3 -3 4 -1 4 0 4 1 6 4 3 3 1 2 -1 2 -3 2 -13 6 -3 2 -2 3 -3 9 -6 12 -1 6 4 10 4 7 6 5 14 7 4 3 1 2 -3 4 -4 4zM1062 1307l-6 2 -4 -1 -2 -1 1 -2 1 -1 4 -1 6 2zM1080 1309l-5 0 -3 -2 3 -2 5 0 3 2 -1 2z"/>
<path fill="#58c0e4" d="M274 1340l-184 0 0 -601 1300 0 0 269 -4 -2 -2 -3 -8 -13 -2 -3 -4 -1 -2 0 -2 1 -6 9 -4 4 -4 1 -10 -2 -3 0 -4 6 -5 4 -6 3 -6 2 -2 -1 -2 -2 -7 -10 -3 -2 -2 0 -4 1 -3 5 -4 14 -2 6 -3 4 -4 2 -2 0 -2 -3 -2 -5 -1 -6 0 -10 -1 -4 -2 -3 -6 -6 -6 -8 -2 -1 -2 1 -2 3 -4 9 -1 7 1 8 -1 4 -3 6 -2 2 -4 1 -12 -3 -1 -2 0 -2 2 -6 -1 -4 -1 -2 -3 -2 -4 -1 -4 0 -3 1 -3 2 -6 10 -4 5 -2 2 -8 1 -10 4 -6 0 -2 0 -3 -2 -5 -7 -4 -3 -2 -1 -6 3 -2 0 -2 -2 -2 -3 -3 -9 -5 -5 -2 -1 -4 2 -5 6 -1 10 -2 4 -6 6 -6 3 -6 0 -4 -1 -3 -2 -5 -8 -2 -2 -2 -1 -2 1 -2 1 -6 8 -10 8 -4 2 -4 -1 -6 -5 -4 -1 -4 2 -3 2 -3 4 -3 6 -3 1 -10 -2 -8 -4 -4 0 -7 3 -11 5 -10 3 -10 7 -2 0 -26 -2 -56 9 -6 2 -5 4 -7 6 -8 10 -2 2 -6 2 -12 3 -24 3 -4 0 -6 -1 -9 -5 -3 -2 -8 -11 -6 -4 -24 -6 -18 -7 -22 -4 -22 -3 -22 0 -78 1 -44 2 -18 2 -5 2 -3 2 -5 2 4 2 22 2 10 2 -29 2 -67 2 -11 1 -6 1 40 1 43 3 -1 2 -46 3 -126 3 -10 2 -6 2 -7 6 -16 4 -3 2 14 2 64 6 5 2 -29 2 -90 3 -53 7 -8 2 -2 2 2 2 7 3 12 3 3 2 -17 4 -6 2 -8 8 0 2 5 6 2 8 6 6 18 22 1 2 -1 2 -5 2 -68 22 -7 4 -1 2 -1 2 5 10 17 26 5 4 4 2 6 2 126 25 13 3 3 2 -1 2 -9 5 -16 8 -22 9 -11 6 -4 3zM1282 1055l-2 1 -2 0 -1 -5 1 -4 0 -1 2 -1 2 2 1 2 0 4z"/>
<path fill="#70c8dc" d="M188 1340l-98 0 0 -601 1292 0 0 4 3 6 3 5 2 2 0 19 -2 2 -2 5 -2 15 0 12 -3 10 0 2 3 4 6 7 0 8 -13 11 -2 2 -1 2 1 2 7 6 1 2 0 6 1 6 2 2 4 2 0 114 -2 -2 -1 -2 -2 -8 -2 -4 -11 -8 -4 -4 -2 1 -5 11 -5 6 -2 2 -4 1 -10 -3 -6 1 -4 2 -5 9 -3 2 -2 0 -2 -1 -9 -9 -5 -2 -4 1 -6 4 -4 2 -6 0 -8 -4 -4 -3 -1 -2 -4 -8 2 -14 -4 -10 -1 -6 0 -8 1 -12 -1 -4 -2 -2 -2 0 -2 2 -2 2 -2 2 0 2 2 10 -2 10 -1 18 -6 22 -3 4 -2 2 -2 0 -2 -1 -3 -5 -3 -7 -2 -1 -4 -1 -4 2 -4 3 -7 12 -7 6 -4 0 -6 -3 -4 -1 -10 3 -8 0 -8 -1 -12 2 -2 0 -2 -2 -8 -14 -4 -4 -2 0 -2 0 -1 2 -4 8 -3 5 -2 2 -4 2 -18 3 -12 -3 -4 0 -4 2 -6 4 -6 0 -8 1 -4 0 -4 -2 -2 0 -2 2 -2 8 -2 4 -4 3 -4 2 -4 0 -4 -1 -8 -4 -4 0 -4 1 -6 5 -6 2 -4 1 -10 0 -6 3 -4 1 -22 0 -10 4 -4 0 -14 -1 -8 0 -18 3 -20 1 -36 5 -42 3 -44 -6 -72 -4 -9 -2 -17 -2 -66 -4 -46 -3 -46 -1 -30 0 -16 2 15 2 -1 2 -14 2 -8 2 1 2 14 2 73 2 20 2 -5 2 -23 2 -82 3 -42 3 1 4 -10 2 -37 4 -21 4 -19 2 -8 2 14 4 -1 2 -30 4 -10 2 -4 4 -16 6 -10 2 -30 4 -5 2 12 4 1 2 -24 10 -11 2 -28 4 -10 2 0 2 27 6 5 2 2 2 -1 2 -11 6 -13 6 -1 2 12 6 1 2 -3 4 0 2 3 6 -3 16 -2 8 -3 2 -17 7 -10 6 -14 15 -1 2 0 4 3 14 4 14 2 6 3 4 45 23 6 2 32 7 4 2 -1 2 -21 15 -12 11 -3 4 -1 1zM1374 905l3 -4 0 -4 0 -4 -6 -12 -3 -11 -2 -7 0 -8 -1 -2 -3 -2 -2 1 0 3 -1 10 7 22 1 12 1 4 2 2 2 1zM1295 937l5 -8 1 -6 -2 -16 1 -14 -2 -5 -2 -2 -2 0 -4 1 -2 4 0 6 3 12 -1 4 -3 10 -1 4 2 6 2 4 2 2zM1369 961l1 -5 1 -3 -1 -3 -2 -2 -1 3 -1 4 0 4zM653 1019l31 -2 4 0 4 -2 -8 -2 -24 -2 -54 -1 -24 1 -22 2 -3 0 -1 2 19 2 23 1z"/>
<path fill="#74c8c0" d="M92 1199l-2 1 0 -461 1267 0 0 20 -1 6 -5 10 -3 10 -2 3 -2 0 -2 -2 -2 0 -1 5 -2 10 -5 7 -4 4 -2 0 -2 -1 -2 -2 -4 -9 -2 -3 -2 1 -2 3 -3 12 -1 6 0 4 -2 1 -6 -4 -4 -1 -4 2 -3 4 -5 18 -5 16 0 10 1 14 1 10 2 14 0 4 -3 3 -2 1 -2 -2 -4 -14 -2 -4 -4 -3 -6 -1 -4 0 -6 2 -2 -1 -4 -9 -2 -3 -6 -5 -1 -2 -1 -4 1 -4 9 -12 3 -6 1 -6 -2 -8 -2 -4 -4 -4 -2 0 -2 0 -3 4 -2 6 -1 6 2 16 0 12 -4 10 -1 6 -5 33 0 21 -2 6 -2 10 -4 12 -3 12 -7 12 -2 1 -2 -3 -2 -8 -2 -3 -2 0 -8 9 -4 2 -2 1 -4 -1 -10 -7 -4 -1 -4 2 -4 5 -2 1 -2 0 -12 -16 -2 -2 -4 -1 -4 1 -6 6 -4 3 -4 2 -4 0 -4 -3 -2 -2 0 -2 2 -4 0 -6 0 -4 -2 -4 -2 1 -2 3 -1 6 0 4 2 4 -1 2 -4 2 -4 1 -8 -1 -6 0 -10 -3 -4 2 -6 5 -6 -1 -4 2 -4 5 -6 9 -2 2 -4 2 -14 2 -12 3 -4 1 -4 -2 -8 -7 -4 -2 -14 8 -6 5 -2 1 -2 0 -4 -2 -4 0 -8 5 -4 2 -4 -1 -10 -3 -4 -1 -20 2 -14 2 -40 2 -56 1 -36 -3 -34 -4 -6 -1 -16 -7 -6 -1 -30 -2 -68 -1 -80 2 -120 0 -94 1 -12 1 -14 4 -2 2 0 2 -1 4 2 2 10 4 3 2 -1 2 -1 2 2 2 10 2 42 3 10 3 2 2 -10 3 -30 4 -84 5 -39 4 -7 2 1 2 10 2 16 2 7 2 -7 2 -28 4 -6 2 -2 4 -16 4 -5 2 1 2 4 2 -2 2 -37 5 -8 1 -4 2 0 4 -4 4 1 2 7 2 26 4 4 2 0 2 -4 2 -8 2 -22 3 -7 3 1 2 4 2 22 6 6 2 1 2 -3 2 -16 6 -5 4 0 2 9 6 0 2 -6 6 -2 6 -8 14 -6 6zM1305 767l4 -4 -1 -4 -4 -6 -2 -2 -2 -1 -2 4 -1 7 0 4 1 3 2 1 2 0zM1346 852l-2 1 -2 -2 -2 -4 -1 -4 1 -6 2 -8 0 -9 2 -3 2 4 0 6 3 16 -1 6zM1312 849l-1 -4 -1 -10 -3 -10 1 -1 4 3 2 2 2 12 0 4 -1 2 -1 1zM1312 953l-2 0 -2 -1 -2 -2 -1 -3 0 -4 1 -4 4 -10 -4 -16 0 -10 2 -10 -2 -16 2 -6 2 -2 2 0 2 3 2 5 1 4 0 16 -1 18 -3 14 0 4 4 12 -1 4 -2 3zM1390 969l-4 -2 -2 -3 -1 -3 -2 -24 4 -18 1 -16 2 -5 2 -2zM1354 940l-2 -1 0 -2 0 -4 2 -1 1 5zM1226 949l-2 0 0 -2 0 -4 2 -1 2 1 1 2 -1 2zM1278 954l-2 -1 -2 -3 0 -3 1 -2 1 -3 2 -1 2 4 1 2 -1 4zM1324 978l-4 1 -2 -2 -1 -2 0 -2 1 -3 4 -2 2 0 2 1 2 2 -1 4zM118 1340l-28 0 0 -65 2 1 4 3 11 16 4 4 8 6 2 2 0 4 -2 29z"/>
<path fill="#7cc8a4" d="M96 1077l-6 1 0 -339 1124 0 3 14 0 16 2 8 1 4 -1 4 -5 9 -2 7 0 6 0 14 -5 20 1 6 2 4 2 2 6 4 2 2 1 4 1 6 -1 4 -3 8 -2 15 -2 6 -2 2 -2 0 -4 -1 -2 0 -2 1 -9 19 -1 6 2 10 -1 6 -6 14 -3 14 -2 3 -2 1 -4 0 -4 -1 -3 -3 -5 -5 -2 -1 -2 0 -2 2 -4 7 -2 1 -2 0 -2 -1 -2 -3 -5 -12 -3 -4 -4 -1 -6 1 -6 -1 -4 -1 -2 -2 -1 -4 0 -10 -4 -10 0 -12 -1 -6 -2 -4 -2 -2 -2 -1 -2 0 -2 1 -2 4 -2 12 -4 5 -8 4 -8 8 -4 0 -6 -1 -2 0 -2 2 -8 14 -10 16 -4 8 -4 7 -4 3 -10 6 -14 5 -4 0 -4 -3 -3 -4 -5 -9 -2 -2 -2 0 -2 1 -6 4 -4 2 -12 2 -10 -2 -12 6 -4 1 -16 -2 -14 2 -58 4 -28 1 -8 -1 -4 -1 -4 -4 -3 -4 -5 -11 -2 -3 -12 -7 -2 -3 -6 -8 -2 -1 -2 6 -2 17 -3 6 -3 4 -4 4 -6 4 -8 2 -8 1 -20 0 -22 -5 -30 -2 -29 -4 -43 -4 -92 1 -41 1 -63 3 -96 5 -32 7 -26 7 -9 6 1 2 8 4 -2 2 -20 4 -5 2 3 2 23 4 7 2 -7 2 -52 4 -17 2 -56 10 -6 2 -2 2 1 2 11 4 -1 2 -12 4zM1248 774l-2 1 -2 -2 -8 -14 -2 -6 0 -14 18 0 3 14 0 6 -3 7zM1266 821l-4 2 -2 -2 -2 -6 0 -8 2 -6 7 -10 4 -12 2 -2 5 -4 2 -2 3 -4 0 -4 -1 -4 -2 -3 -6 -1 -2 -1 -6 -11 -1 -4 22 0 0 6 2 8 -1 12 5 10 1 6 -4 14 -1 12 -5 7 -4 4 -8 1zM1326 777l-2 0 -2 -2 -1 -2 -2 -12 -6 -22 22 0 3 8 0 4 -10 23zM1087 761l1 -2 -1 -4 -1 -2 -2 -1 -2 1 0 4 2 4 2 1zM1091 793l0 -2 0 -4 -3 -5 -2 1 0 6 2 4zM1208 933l0 -2 0 -4 2 0 0 4zM92 1148l-2 1 0 -13 4 1 3 2 2 2 -1 2 -2 2zM90 1164l0 -4 3 1 -1 2z"/>
<path fill="#8cc888" d="M92 1049l-2 0 0 -310 983 0 -2 12 0 6 3 14 1 14 6 16 0 14 4 14 2 22 1 6 3 4 14 12 1 2 0 4 -3 6 -3 4 -8 8 -4 3 -4 0 -20 -5 -2 0 -2 1 -2 3 -3 8 -1 14 -2 5 -4 5 -8 4 -8 8 -2 6 -5 28 -5 7 -4 3 -4 2 -4 1 -4 -1 -2 -2 -2 -4 -3 -6 -4 -30 -3 -5 -2 -2 -2 0 -14 3 -6 2 -2 0 -2 -4 -3 -10 -1 -2 -2 -1 -4 0 -2 1 -1 2 -1 6 0 12 -6 14 -2 12 -2 2 -2 0 -3 -2 -5 -5 -4 -3 -4 -2 -4 0 -10 4 -14 1 -12 5 -10 2 -22 2 -30 0 -4 -2 -5 -16 -5 -7 -16 -15 -8 -3 -6 0 -4 1 -4 2 -8 8 -1 4 -1 24 -2 4 -4 4 -8 5 -6 2 -6 2 -10 1 -6 0 -19 -6 -67 -6 -13 -2 -15 -4 -6 -1 -40 3 -264 10 -20 2 -13 2 -2 2 4 2 -2 2 -29 4 -37 8 -18 8 -2 2 -3 2 -26 4 -7 2 0 2 5 2 19 4 1 2 -42 6zM1104 761l-2 1 -2 -1 -1 -2 -5 -20 16 0 -3 18zM1152 950l-2 1 -2 -1 -6 -6 -6 -5 -1 -2 2 -6 -2 -4 -11 -11 -4 -5 -2 -8 -1 -18 0 -4 2 -6 0 -4 -1 -2 -2 -1 -6 -2 -2 -3 -4 -12 -5 -12 -1 -6 3 -14 0 -12 3 -12 2 -12 1 -4 6 -8 2 -6 1 -12 -2 -14 21 0 1 4 0 2 2 -2 1 -4 18 0 1 12 0 3 2 1 2 -6 0 -10 45 0 3 12 1 4 -2 12 1 16 -6 22 0 18 -3 18 5 18 0 4 -3 8 -1 12 -4 5 -4 2 -4 1 -8 1 -2 -2 -2 -3 -2 -1 0 1 -1 2 4 6 4 12 1 6 -2 4 -4 7 -2 1 -6 -2 -2 0 -2 1 -2 1 -4 6 -5 14zM1070 843l2 -2 0 -2 -2 -2 -2 -1 -1 3 0 2 1 2zM916 931l2 -2 -4 -2 -6 2 4 2zM1176 941l-1 -2 1 -2 0 -2 2 -1 2 3 -1 2 -1 1zM615 953l10 -2 -5 -2 -28 -2 -98 0 -48 2 16 2 34 3 18 0 78 1zM605 965l1 -2 -12 -2 -73 2 24 2 47 2 6 0z"/>
<path fill="#a0cc60" d="M226 985l-136 1 0 -247 856 0 0 30 0 8 2 8 7 12 0 4 0 4 -4 10 -1 8 -4 10 0 4 1 2 2 2 11 6 4 1 12 -2 4 0 6 2 4 0 4 -3 4 -4 0 -11 2 -4 2 -1 8 8 6 8 6 4 4 0 4 0 4 -2 1 -2 -1 -16 4 -10 -1 -4 -3 -10 -1 -8 1 -9 2 -1 8 10 8 8 1 4 0 6 -4 8 -1 4 0 18 2 10 0 4 -2 3 -4 2 -2 3 -6 16 -2 12 -4 10 0 4 2 6 0 4 -8 24 -7 36 -2 4 -5 2 -4 0 -2 -1 -2 -3 -2 -14 0 -16 -1 -12 -3 -11 -2 -6 -4 -6 -8 -6 -10 -11 -4 -2 -4 0 -3 4 -3 10 -3 4 -5 3 -6 3 -18 2 -18 0 -10 0 -34 5 -22 4 -22 3 -6 -1 -4 -2 -6 -5 -10 -12 -7 -6 -6 -6 -5 -3 -4 0 -2 1 -2 3 -4 11 0 4 2 8 0 2 -1 2 -19 15 -4 5 -1 4 1 6 -1 8 1 8 -1 4 -2 2 -4 2 -15 3 -10 0 -12 -3 -20 -2 -12 -2 -6 -2 -4 -2 -1 -2 5 -2 14 -4 0 -2 -16 -4 -3 -2 26 -4 7 -2 -2 -2 -18 -3 -24 -2 -52 -1 -292 1 -50 3 -9 2 41 4 7 2 -33 4 -6 2 -1 2 0 2 4 2 8 2 1 2 -7 2 11 2 31 2 4 2 -35 4zM1010 798l-6 -3 -3 -4 -2 -6 1 -6 5 -28 1 -12 10 0 1 8 3 12 0 16 0 4 -6 13 -2 5zM1052 742l0 -3 2 0zM1124 745l-2 -2 0 -4 4 0zM1172 784l-2 -1 -1 -2 -1 -6 -1 -36 21 0 -8 22 -1 14 -3 5 -2 3zM1192 833l-2 0 -1 -4 -1 -4 0 -4 3 -12 1 -14 0 -4 -2 -10 0 -4 3 -18 3 -6 2 -1 2 -1 2 2 1 4 -1 12 0 12 -1 6 -4 8 -1 6 0 6 1 12 0 6 -3 6zM619 841l3 -2 1 -2 7 -22 2 -6 0 -2 -2 -2 -26 -15 -6 -2 -6 1 -6 4 -8 5 -6 7 -1 2 0 2 2 6 9 16 4 6 2 2 6 2 10 2 6 0zM1020 816l-4 0 -2 -2 -1 -3 1 -2 2 0 6 2 1 2zM1142 905l-2 1 -2 -1 -2 -1 -1 -3 -1 -4 1 -6 -3 -10 -1 -10 1 -5 2 -3 2 -2 2 0 2 2 1 10 1 4 2 2 4 1 4 -1 2 -1 5 -9 1 -4 -1 -2 -7 -6 -1 -2 1 -4 4 -10 0 -18 0 -4 2 -3 2 1 7 18 -2 12 0 10 -2 8 3 6 0 4 -2 3 -2 3 -6 2 -2 2 -2 6 -4 10 -2 2zM1114 842l-2 1 -2 -2 -1 -6 1 -4 2 1 2 3 1 4zM1190 865l-2 0 -2 -2 -2 -2 -1 -4 3 -10 2 -2 2 0 2 1 2 2 4 9 -1 4 -2 2zM92 1015l-2 0 0 -19 31 1 30 2 0 2 1 2 -6 2 -36 4 -4 2 -2 2zM98 1037l-8 1 0 -4 8 1 1 2z"/>
<path fill="#b4d044" d="M106 969l-16 1 0 -231 432 0 -3 2 -27 10 -16 8 -25 8 -2 2 9 17 8 23 20 28 2 2 7 2 12 2 91 9 10 0 28 -2 10 -2 5 -3 1 -2 2 -4 -1 -30 -2 -8 -7 -19 -4 -9 -8 -15 -6 -7 -6 -4 -18 -8 329 0 -2 26 -3 14 -1 14 -2 24 1 24 3 10 5 7 4 2 10 -1 2 1 2 2 2 4 2 9 -1 4 -4 4 -5 3 -10 3 -4 4 -5 8 -3 2 -4 0 -12 -2 -6 0 -6 1 -22 9 -14 4 -8 1 -16 0 -18 -1 -4 -2 -1 -2 -6 -16 -7 -9 -6 -5 -16 -7 -4 -1 -15 8 -9 7 -8 11 1 6 0 2 -2 6 -3 6 0 2 2 4 -1 2 -3 4 -5 4 -15 7 -4 0 -8 -4 -6 -1 -62 -1 -334 4 -96 3 -54 3 -21 3 -4 2 -2 2 -15 4 4 2 12 2 6 2 -3 2 -7 2zM1174 751l-2 -2 -1 -10 9 0 -2 7 -2 4zM1010 938l-2 -3 -2 -6 -1 -6 0 -10 1 -14 -1 -4 -8 -20 -1 -6 2 -10 2 -4 4 -4 4 -1 6 3 4 4 4 18 -3 18 -1 14 1 10 0 6 -7 14zM662 919l5 -2 -2 -4 -1 -4 -2 -2 -1 -2 5 -2 16 -4 0 -2 -18 -4 -12 -1 -38 0 -60 0 -8 1 -9 2 1 2 10 4 3 2 -2 2 -3 1 -16 3 -37 4 2 2 31 2 74 1 40 2z"/>
<path fill="#ccd820" d="M104 943l-14 1 0 -205 343 0 -19 14 -14 14 -8 28 -5 14 -5 8 -6 7 -14 15 1 2 9 2 20 3 28 4 78 5 12 2 6 4 17 2 59 2 52 1 30 -1 10 -2 3 -2 -6 -6 -3 -3 -3 -11 -3 -8 -8 -45 -4 -21 -2 -28 101 0 0 26 1 6 3 6 3 6 4 3 4 1 4 -1 2 -2 2 -4 2 -6 2 -9 0 -26 90 0 0 28 -2 38 -3 34 -2 4 -11 9 -4 5 -1 4 -1 12 -2 4 -4 7 -7 9 -3 2 -4 2 -4 0 -2 -1 -6 -9 -9 -10 -2 -4 -2 -14 -3 -4 -6 -4 -6 -2 -16 -3 -8 -1 -26 7 -11 5 -3 2 -1 2 6 8 0 4 -1 2 -2 2 -4 2 -18 3 -10 1 -34 -2 -30 0 -74 4 -42 3 -64 3 -29 2 -11 2 7 2 13 2 4 2 -11 4 -10 2 -67 6 -12 2 14 2 42 2 206 4 38 2 19 2 -10 2 -49 2 -144 1 -60 1 -244 7z"/>
<path fill="#e8e41c" d="M138 937l-48 2 0 -200 276 0 -20 14 -13 12 -3 4 -10 18 -11 18 -2 6 -3 28 0 3 3 5 -1 2 -3 2 -1 2 2 2 8 2 40 4 4 2 0 2 14 2 26 1 98 -1 52 2 32 2 -13 2 -103 3 -8 1 4 2 -6 2 -78 6 -60 6 -6 2 1 2 -4 2 -21 4 0 2 4 2 -2 2 -42 6 4 2 16 2 32 3 22 1 15 2 -55 3 -53 5zM720 843l-6 0 -8 -1 -4 -1 -3 -2 -5 -6 -6 -10 -5 -12 -2 -6 -1 -36 0 -30 60 0 0 28 2 38 -1 12 -3 12 -4 8 -2 2 -3 2zM828 845l-12 -1 -3 -1 -3 -2 -2 -2 -10 -25 -1 -9 0 -66 53 0 0 28 -5 40 -7 32 -1 2 -3 2z"/>
<path fill="#fcec1c" d="M92 933l-2 0 0 -194 178 0 1 28 -3 40 -3 36 0 4 -2 2 -4 4 0 2 1 2 4 4 -3 2 -7 2 -8 4 -14 4 9 2 59 4 9 2 -3 2 -14 4 -40 6 -3 2 1 2 -2 0 -9 2 -23 2 -11 2 19 4 0 2 -45 4 -14 2 1 2 4 2 -5 2 -35 4 -22 6zM828 744l-2 -1 -2 -4 7 0 -1 3zM712 810l-3 -1 -2 -2 1 -4 2 -5 2 0 2 3 2 4 -1 2 -1 2z"/>
<path fill="#fccc18" d="M116 911l-26 2 0 -174 128 0 -8 64 -5 36 -3 6 0 2 -4 4 -2 8 -2 2 -12 4 -1 2 -6 2 -50 4 -11 2 22 2 52 1 18 3 17 4 -5 2 -18 2 -74 4 2 2 9 2 -7 2 -16 2 -3 2 31 4 -1 2z"/>
<path fill="#f4a81c" d="M98 859l-8 1 0 -121 68 0 -9 22 -10 26 -16 38 -8 16 -9 8 0 2 5 4 -3 2z"/>
</g>
<rect x="90.5" y="1162" width="1299.2" height="39" fill="#fff"/>
<line x1="90.5" y1="841.7" x2="1389.2" y2="841.7" stroke="#406060" stroke-opacity=".1" stroke-width="1"/>
<line x1="90.5" y1="1303.7" x2="1389.2" y2="1303.7" stroke="#406060" stroke-opacity=".1" stroke-width="1"/>
<line x1="1088.7" y1="739.3" x2="1088.7" y2="1339.5" stroke="#406060" stroke-opacity=".1" stroke-width="1"/>
<g clip-path="url(#clipb)"><path d="M-4.0 979.0L-88.3 1063.3M21.3 979.0L-63.0 1063.3M46.6 979.0L-37.7 1063.3M72.0 979.0L-12.3 1063.3M97.3 979.0L13.0 1063.3M122.6 979.0L38.3 1063.3M148.0 979.0L63.7 1063.3M173.3 979.0L89.0 1063.3M198.6 979.0L114.3 1063.3M223.9 979.0L139.6 1063.3M249.3 979.0L165.0 1063.3M274.6 979.0L190.3 1063.3M299.9 979.0L215.6 1063.3M325.3 979.0L241.0 1063.3M350.6 979.0L266.3 1063.3M375.9 979.0L291.6 1063.3M401.3 979.0L317.0 1063.3M426.6 979.0L342.3 1063.3M451.9 979.0L367.6 1063.3M477.2 979.0L392.9 1063.3M502.6 979.0L418.3 1063.3M527.9 979.0L443.6 1063.3M553.2 979.0L468.9 1063.3M578.6 979.0L494.3 1063.3M603.9 979.0L519.6 1063.3M629.2 979.0L544.9 1063.3M654.6 979.0L570.3 1063.3M679.9 979.0L595.6 1063.3M705.2 979.0L620.9 1063.3M730.6 979.0L646.3 1063.3M755.9 979.0L671.6 1063.3M781.2 979.0L696.9 1063.3M806.5 979.0L722.2 1063.3M831.9 979.0L747.6 1063.3M857.2 979.0L772.9 1063.3M882.5 979.0L798.2 1063.3M907.9 979.0L823.6 1063.3M933.2 979.0L848.9 1063.3M958.5 979.0L874.2 1063.3M983.9 979.0L899.6 1063.3M1009.2 979.0L924.9 1063.3M1034.5 979.0L950.2 1063.3M1059.8 979.0L975.5 1063.3M1085.2 979.0L1000.9 1063.3M1110.5 979.0L1026.2 1063.3M1135.8 979.0L1051.5 1063.3M1161.2 979.0L1076.9 1063.3M1186.5 979.0L1102.2 1063.3M1211.8 979.0L1127.5 1063.3M1237.1 979.0L1152.8 1063.3M1262.5 979.0L1178.2 1063.3M1287.8 979.0L1203.5 1063.3M1313.1 979.0L1228.8 1063.3M1338.5 979.0L1254.2 1063.3M1363.8 979.0L1279.5 1063.3M1389.1 979.0L1304.8 1063.3M1414.5 979.0L1330.2 1063.3M1439.8 979.0L1355.5 1063.3M1465.1 979.0L1380.8 1063.3" stroke="#000" stroke-width="1.8" fill="none"/></g>
<line x1="711.2" y1="739.3" x2="711.2" y2="1339.5" stroke="#fff" stroke-width="3"/>
<line x1="711.2" y1="739.3" x2="711.2" y2="1339.5" stroke="#000" stroke-width="3" stroke-dasharray="11.5 11"/>
<line x1="762.3" y1="739.3" x2="762.3" y2="1339.5" stroke="#000" stroke-width="3" stroke-dasharray="11.5 11"/>
<line x1="849.5" y1="739.3" x2="849.5" y2="1339.5" stroke="#000" stroke-width="3" stroke-dasharray="11.5 11"/>
<line x1="887" y1="739.3" x2="887" y2="1339.5" stroke="#000" stroke-width="3" stroke-dasharray="11.5 11"/>
<line x1="808.1" y1="739.3" x2="808.1" y2="1339.5" stroke="#000" stroke-width="3"/>
<line x1="995" y1="739.3" x2="995" y2="1339.5" stroke="#fff" stroke-width="2.6"/>
<line x1="1108.2" y1="739.3" x2="1108.2" y2="1339.5" stroke="#000" stroke-width="3.1"/>
<line x1="90.5" y1="725.8" x2="90.5" y2="1339.5" stroke="#807070" stroke-opacity=".7" stroke-width="1.2"/>
<path d="M1389.2 732.3V1346.5M391.0 739.3v-7M391.0 1339.5v7M566.8 739.3v-7M566.8 1339.5v7M691.5 739.3v-7M691.5 1339.5v7M788.2 739.3v-7M788.2 1339.5v7M867.3 739.3v-7M867.3 1339.5v7M934.1 739.3v-7M934.1 1339.5v7M992.0 739.3v-7M992.0 1339.5v7M1043.0 739.3v-7M1043.0 1339.5v7M1088.7 739.3v-13.5M1088.7 1339.5v7M90.5 770.1h7M1389.2 770.1h-7M90.5 796.9h7M1389.2 796.9h-7M90.5 820.6h7M1389.2 820.6h-7M90.5 841.7h14M1389.2 841.7h-14M90.5 980.8h7M1389.2 980.8h-7M90.5 1062.1h7M1389.2 1062.1h-7M90.5 1119.9h7M1389.2 1119.9h-7M90.5 1164.6h7M1389.2 1164.6h-7M90.5 1201.2h7M1389.2 1201.2h-7M90.5 1232.1h7M1389.2 1232.1h-7M90.5 1258.9h7M1389.2 1258.9h-7M90.5 1282.6h7M1389.2 1282.6h-7M90.5 1303.7h14M1389.2 1303.7h-14" stroke="#3a3a3a" stroke-width="1.2" fill="none"/>
<line x1="90.5" y1="739.3" x2="1389.2" y2="739.3" stroke="#3a3a3a" stroke-opacity=".95" stroke-width="1.2"/>
<line x1="90.5" y1="1339.5" x2="1389.2" y2="1339.5" stroke="#3a3a3a" stroke-opacity=".95" stroke-width="1.2"/>
<text x="37" y="855.3" class="tk">10<tspan dy="-13" font-size="19.5">2</tspan></text>
<text x="37" y="1317.3" class="tk">10<tspan dy="-13" font-size="19.5">3</tspan></text>
<text x="48.4" y="1176.3" class="b5" textLength="32.5" lengthAdjust="spacingAndGlyphs">500</text>
<text x="62" y="1365.7" class="tk">10<tspan dy="-15.5" font-size="13.5" stroke-width=".8">−</tspan><tspan dy="0.5" font-size="19">2</tspan></text>
<text x="1059.5" y="1365.5" class="tk">10<tspan dy="-15.5" font-size="13.5" stroke-width=".8">−</tspan><tspan dy="0.5" font-size="19">1</tspan></text>
<text transform="translate(25.2 1039.2) rotate(-90)" class="lb" text-anchor="middle" textLength="131" lengthAdjust="spacingAndGlyphs">Depth, m</text>
<text x="115" y="1313.2" class="pl" textLength="162.5" lengthAdjust="spacingAndGlyphs">(b) CCW</text>
<rect x="1401.1" y="739.30" width="23.4" height="9.98" fill="#801a1f"/>
<rect x="1401.1" y="748.68" width="23.4" height="9.98" fill="#8d1b20"/>
<rect x="1401.1" y="758.06" width="23.4" height="9.98" fill="#9a1c22"/>
<rect x="1401.1" y="767.43" width="23.4" height="9.98" fill="#af1c23"/>
<rect x="1401.1" y="776.81" width="23.4" height="9.98" fill="#c51a22"/>
<rect x="1401.1" y="786.19" width="23.4" height="9.98" fill="#db1018"/>
<rect x="1401.1" y="795.57" width="23.4" height="9.98" fill="#e10c18"/>
<rect x="1401.1" y="804.95" width="23.4" height="9.98" fill="#e5111b"/>
<rect x="1401.1" y="814.32" width="23.4" height="9.98" fill="#e7181d"/>
<rect x="1401.1" y="823.70" width="23.4" height="9.98" fill="#e82120"/>
<rect x="1401.1" y="833.08" width="23.4" height="9.98" fill="#e82e20"/>
<rect x="1401.1" y="842.46" width="23.4" height="9.98" fill="#e93c20"/>
<rect x="1401.1" y="851.84" width="23.4" height="9.98" fill="#eb4c20"/>
<rect x="1401.1" y="861.22" width="23.4" height="9.98" fill="#ec5a20"/>
<rect x="1401.1" y="870.59" width="23.4" height="9.98" fill="#ee6820"/>
<rect x="1401.1" y="879.97" width="23.4" height="9.98" fill="#ef7520"/>
<rect x="1401.1" y="889.35" width="23.4" height="9.98" fill="#f18320"/>
<rect x="1401.1" y="898.73" width="23.4" height="9.98" fill="#f29020"/>
<rect x="1401.1" y="908.11" width="23.4" height="9.98" fill="#f49e20"/>
<rect x="1401.1" y="917.48" width="23.4" height="9.98" fill="#f6ab1e"/>
<rect x="1401.1" y="926.86" width="23.4" height="9.98" fill="#fab91a"/>
<rect x="1401.1" y="936.24" width="23.4" height="9.98" fill="#fcc718"/>
<rect x="1401.1" y="945.62" width="23.4" height="9.98" fill="#fcd81a"/>
<rect x="1401.1" y="955.00" width="23.4" height="9.98" fill="#fce81c"/>
<rect x="1401.1" y="964.38" width="23.4" height="9.98" fill="#f8ec1c"/>
<rect x="1401.1" y="973.75" width="23.4" height="9.98" fill="#ebe71e"/>
<rect x="1401.1" y="983.13" width="23.4" height="9.98" fill="#dee120"/>
<rect x="1401.1" y="992.51" width="23.4" height="9.98" fill="#d3dc24"/>
<rect x="1401.1" y="1001.89" width="23.4" height="9.98" fill="#c9d828"/>
<rect x="1401.1" y="1011.27" width="23.4" height="9.98" fill="#bed42e"/>
<rect x="1401.1" y="1020.64" width="23.4" height="9.98" fill="#b4d03e"/>
<rect x="1401.1" y="1030.02" width="23.4" height="9.98" fill="#a9ce4c"/>
<rect x="1401.1" y="1039.40" width="23.4" height="9.98" fill="#a0cb5c"/>
<rect x="1401.1" y="1048.78" width="23.4" height="9.98" fill="#96ca6d"/>
<rect x="1401.1" y="1058.16" width="23.4" height="9.98" fill="#8ec87d"/>
<rect x="1401.1" y="1067.53" width="23.4" height="9.98" fill="#87c88c"/>
<rect x="1401.1" y="1076.91" width="23.4" height="9.98" fill="#81c89c"/>
<rect x="1401.1" y="1086.29" width="23.4" height="9.98" fill="#7bc8aa"/>
<rect x="1401.1" y="1095.67" width="23.4" height="9.98" fill="#77c8b8"/>
<rect x="1401.1" y="1105.05" width="23.4" height="9.98" fill="#72c8c5"/>
<rect x="1401.1" y="1114.42" width="23.4" height="9.98" fill="#6fc7d1"/>
<rect x="1401.1" y="1123.80" width="23.4" height="9.98" fill="#6cc4db"/>
<rect x="1401.1" y="1133.18" width="23.4" height="9.98" fill="#58bde6"/>
<rect x="1401.1" y="1142.56" width="23.4" height="9.98" fill="#45b8ea"/>
<rect x="1401.1" y="1151.94" width="23.4" height="9.98" fill="#37b1ea"/>
<rect x="1401.1" y="1161.32" width="23.4" height="9.98" fill="#34a6e3"/>
<rect x="1401.1" y="1170.69" width="23.4" height="9.98" fill="#349edb"/>
<rect x="1401.1" y="1180.07" width="23.4" height="9.98" fill="#3494d4"/>
<rect x="1401.1" y="1189.45" width="23.4" height="9.98" fill="#328ccd"/>
<rect x="1401.1" y="1198.83" width="23.4" height="9.98" fill="#3082c7"/>
<rect x="1401.1" y="1208.21" width="23.4" height="9.98" fill="#2c7ac1"/>
<rect x="1401.1" y="1217.58" width="23.4" height="9.98" fill="#2b72bb"/>
<rect x="1401.1" y="1226.96" width="23.4" height="9.98" fill="#296ab5"/>
<rect x="1401.1" y="1236.34" width="23.4" height="9.98" fill="#2863b0"/>
<rect x="1401.1" y="1245.72" width="23.4" height="9.98" fill="#265fac"/>
<rect x="1401.1" y="1255.10" width="23.4" height="9.98" fill="#255aaa"/>
<rect x="1401.1" y="1264.47" width="23.4" height="9.98" fill="#2356a6"/>
<rect x="1401.1" y="1273.85" width="23.4" height="9.98" fill="#2251a4"/>
<rect x="1401.1" y="1283.23" width="23.4" height="9.98" fill="#204da0"/>
<rect x="1401.1" y="1292.61" width="23.4" height="9.98" fill="#1f479c"/>
<rect x="1401.1" y="1301.99" width="23.4" height="9.98" fill="#1d4198"/>
<rect x="1401.1" y="1311.37" width="23.4" height="9.98" fill="#1c3b93"/>
<rect x="1401.1" y="1320.74" width="23.4" height="9.98" fill="#1c368b"/>
<rect x="1401.1" y="1330.12" width="23.4" height="9.98" fill="#1c3080"/>
<rect x="1401.1" y="739.3" width="23.4" height="600.2" fill="none" stroke="#3a3a3a" stroke-opacity=".55" stroke-width="1"/>
<path d="M1424.5 1239.5h-7M1424.5 1139.4h-7M1424.5 1039.4h-7M1424.5 939.4h-7M1424.5 839.3h-7" stroke="#1a3a30" stroke-opacity=".8" stroke-width="1.2" fill="none"/>
<text x="1431.5" y="1349.8" class="cb">0</text>
<text x="1431.5" y="1249.8" class="cb">1</text>
<text x="1431.5" y="1149.7" class="cb">2</text>
<text x="1431.5" y="1049.7" class="cb">3</text>
<text x="1431.5" y="949.7" class="cb">4</text>
<text x="1431.5" y="849.6" class="cb">5</text>
<text x="1431.5" y="749.6" class="cb">6</text>
<text transform="translate(1481.5 1040.5) rotate(-90)" class="cl" text-anchor="middle" textLength="257" lengthAdjust="spacingAndGlyphs">PSD, m<tspan dy="-12.5" font-size="17">2</tspan><tspan dy="12.5" dx="3">/s</tspan><tspan dy="-12.5" font-size="17">2</tspan><tspan dy="12.5" dx="3">/cph, log</tspan><tspan dy="9.5" font-size="16">10</tspan></text>
<text x="598.5" y="29.5" class="tl"><tspan textLength="21" lengthAdjust="spacingAndGlyphs">K</tspan><tspan dy="6.5" dx="1" font-size="20">1</tspan></text>
<text x="655.5" y="32" class="tl" textLength="53" lengthAdjust="spacingAndGlyphs">0.8f</text>
<text x="721.5" y="32" class="tl" textLength="53" lengthAdjust="spacingAndGlyphs">0.9f</text>
<text x="787" y="32" class="tl" textLength="55" lengthAdjust="spacingAndGlyphs">1.0f</text>
<text x="851" y="32" class="tl" textLength="51" lengthAdjust="spacingAndGlyphs">1.1f</text>
<text x="918" y="32" class="tl" textLength="52" lengthAdjust="spacingAndGlyphs">1.2f</text>
<text x="998" y="32" class="tl"><tspan textLength="25" lengthAdjust="spacingAndGlyphs">M</tspan><tspan dy="6.5" dx="1" font-size="20">2</tspan></text>
<text x="1118.5" y="32" class="tl" textLength="26" lengthAdjust="spacingAndGlyphs">2f</text>
<path d="M621 36L712.4 81.5M684 30L712.4 81.5M749.8 34.4L763.5 81.5M817.3 33L809.2 81.5M878.5 34.2L851.5 81.5M941.5 38.5L888.7 81.5M1013 38.5L996.6 81.5M1127.3 38.5L1109.8 81.5" stroke="#111" stroke-width="1.1" fill="none"/>
<text x="739.8" y="1417.7" class="lb" font-size="29" text-anchor="middle" textLength="210" lengthAdjust="spacingAndGlyphs">Frequency, cph</text>
</svg></body></html>
